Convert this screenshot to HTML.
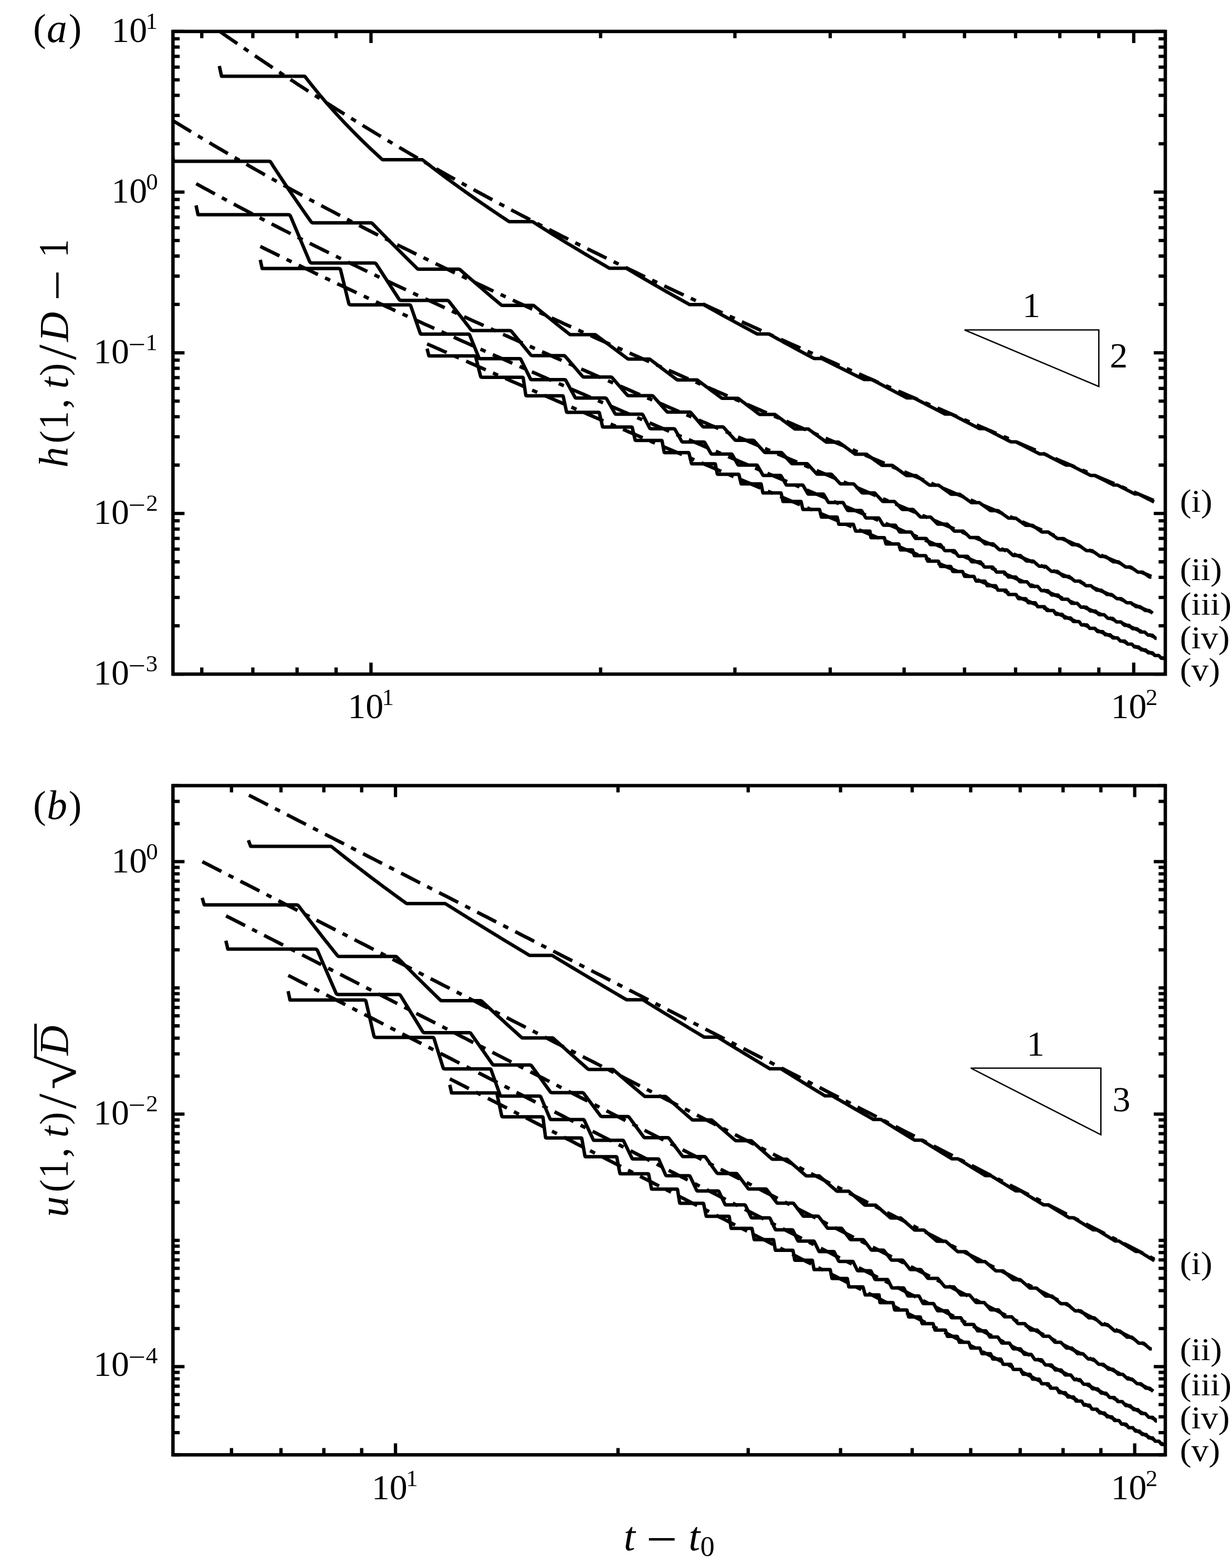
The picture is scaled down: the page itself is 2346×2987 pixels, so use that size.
<!DOCTYPE html>
<html lang="en"><head><meta charset="utf-8"><title>Figure</title>
<style>
html,body{margin:0;padding:0;background:#fff;}
body{width:2346px;height:2987px;overflow:hidden;}
svg{display:block;font-family:'Liberation Serif', 'DejaVu Serif', serif;fill:#000;}
</style></head><body>
<svg width="2346" height="2987" viewBox="0 0 2346 2987">
<defs>
<clipPath id="ca"><rect x="329.35" y="59.90" width="1889.65" height="1224.30"/></clipPath>
<clipPath id="cb"><rect x="329.35" y="1496.60" width="1889.65" height="1274.80"/></clipPath>
</defs>
<rect width="2346" height="2987" fill="#fff"/>
<g clip-path="url(#ca)">
<path d="M418.5 59.9L425.9 65.1L433.3 70.2L440.7 75.4L448.2 80.5L455.6 85.7L463.0 90.8L470.4 95.8L477.8 100.9L485.2 106.0L492.6 111.0L500.0 116.0L507.5 121.0L514.9 126.0L522.3 131.0L529.7 135.9L537.1 140.9L544.5 145.8L551.9 150.7L559.4 155.5L566.8 160.4L574.2 165.2L581.6 170.1L589.0 174.9L596.4 179.7L603.8 184.4L611.2 189.2L618.7 193.9L626.1 198.6L633.5 203.3L640.9 208.0L648.3 212.6L655.7 217.3L663.1 221.9L670.5 226.5L678.0 231.1L685.4 235.7L692.8 240.2L700.2 244.7L707.6 249.2L715.0 253.7L722.4 258.2L729.9 262.7L737.3 267.1L744.7 271.5L752.1 275.9L759.5 280.3L766.9 284.7L774.3 289.0L781.7 293.4L789.2 297.7L796.6 302.0L804.0 306.3L811.4 310.5L818.8 314.8L826.2 319.0L833.6 323.2L841.0 327.4L848.5 331.6L855.9 335.8L863.3 339.9L870.7 344.0L878.1 348.2L885.5 352.3L892.9 356.4L900.4 360.4L907.8 364.5L915.2 368.5L922.6 372.5L930.0 376.5L937.4 380.5L944.8 384.5L952.2 388.5L959.7 392.4L967.1 396.4L974.5 400.3L981.9 404.2L989.3 408.1L996.7 412.0L1004.1 415.8L1011.5 419.7L1019.0 423.5L1026.4 427.4L1033.8 431.2L1041.2 435.0L1048.6 438.8L1056.0 442.5L1063.4 446.3L1070.8 450.1L1078.3 453.8L1085.7 457.5L1093.1 461.3L1100.5 465.0L1107.9 468.7L1115.3 472.3L1122.7 476.0L1130.2 479.7L1137.6 483.3L1145.0 487.0L1152.4 490.6L1159.8 494.2L1167.2 497.9L1174.6 501.5L1182.0 505.1L1189.5 508.6L1196.9 512.2L1204.3 515.8L1211.7 519.3L1219.1 522.9L1226.5 526.4L1233.9 530.0L1241.3 533.5L1248.8 537.0L1256.2 540.5L1263.6 544.0L1271.0 547.5L1278.4 551.0L1285.8 554.5L1293.2 557.9L1300.7 561.4L1308.1 564.9L1315.5 568.3L1322.9 571.8L1330.3 575.2L1337.7 578.6L1345.1 582.0L1352.5 585.5L1360.0 588.9L1367.4 592.3L1374.8 595.7L1382.2 599.1L1389.6 602.5L1397.0 605.8L1404.4 609.2L1411.8 612.6L1419.3 616.0L1426.7 619.3L1434.1 622.7L1441.5 626.0L1448.9 629.4L1456.3 632.7L1463.7 636.0L1471.2 639.4L1478.6 642.7L1486.0 646.0L1493.4 649.3L1500.8 652.7L1508.2 656.0L1515.6 659.3L1523.0 662.6L1530.5 665.9L1537.9 669.2L1545.3 672.5L1552.7 675.7L1560.1 679.0L1567.5 682.3L1574.9 685.6L1582.3 688.8L1589.8 692.1L1597.2 695.4L1604.6 698.6L1612.0 701.9L1619.4 705.2L1626.8 708.4L1634.2 711.7L1641.7 714.9L1649.1 718.2L1656.5 721.4L1663.9 724.6L1671.3 727.9L1678.7 731.1L1686.1 734.4L1693.5 737.6L1701.0 740.8L1708.4 744.0L1715.8 747.3L1723.2 750.5L1730.6 753.7L1738.0 756.9L1745.4 760.1L1752.8 763.3L1760.3 766.6L1767.7 769.8L1775.1 773.0L1782.5 776.2L1789.9 779.4L1797.3 782.6L1804.7 785.8L1812.1 789.0L1819.6 792.2L1827.0 795.4L1834.4 798.6L1841.8 801.7L1849.2 804.9L1856.6 808.1L1864.0 811.3L1871.5 814.5L1878.9 817.7L1886.3 820.9L1893.7 824.0L1901.1 827.2L1908.5 830.4L1915.9 833.6L1923.3 836.8L1930.8 839.9L1938.2 843.1L1945.6 846.3L1953.0 849.5L1960.4 852.6L1967.8 855.8L1975.2 859.0L1982.6 862.1L1990.1 865.3L1997.5 868.5L2004.9 871.6L2012.3 874.8L2019.7 878.0L2027.1 881.1L2034.5 884.3L2042.0 887.4L2049.4 890.6L2056.8 893.8L2064.2 896.9L2071.6 900.1L2079.0 903.2L2086.4 906.4L2093.8 909.5L2101.3 912.7L2108.7 915.8L2116.1 919.0L2123.5 922.1L2130.9 925.3L2138.3 928.4L2145.7 931.6L2153.1 934.7L2160.6 937.9L2168.0 941.0L2175.4 944.2L2182.8 947.3L2190.2 950.5L2197.6 953.6" fill="none" stroke="#000" stroke-width="6.60" stroke-dasharray="40.7 15.1 10.5 15.1" stroke-dashoffset="0.0"/>
<path d="M327.1 228.4L334.8 233.2L342.6 237.9L350.4 242.7L358.1 247.4L365.9 252.2L373.7 256.9L381.5 261.5L389.2 266.2L397.0 270.8L404.8 275.5L412.6 280.1L420.3 284.6L428.1 289.2L435.9 293.7L443.6 298.3L451.4 302.8L459.2 307.3L467.0 311.7L474.7 316.2L482.5 320.6L490.3 325.0L498.1 329.4L505.8 333.8L513.6 338.1L521.4 342.5L529.1 346.8L536.9 351.1L544.7 355.4L552.5 359.7L560.2 363.9L568.0 368.1L575.8 372.4L583.6 376.6L591.3 380.8L599.1 384.9L606.9 389.1L614.6 393.2L622.4 397.3L630.2 401.4L638.0 405.5L645.7 409.6L653.5 413.7L661.3 417.7L669.1 421.8L676.8 425.8L684.6 429.8L692.4 433.8L700.1 437.8L707.9 441.7L715.7 445.7L723.5 449.6L731.2 453.5L739.0 457.4L746.8 461.3L754.6 465.2L762.3 469.1L770.1 473.0L777.9 476.8L785.6 480.7L793.4 484.5L801.2 488.3L809.0 492.1L816.7 495.9L824.5 499.7L832.3 503.5L840.1 507.2L847.8 511.0L855.6 514.7L863.4 518.5L871.2 522.2L878.9 525.9L886.7 529.6L894.5 533.3L902.2 537.0L910.0 540.7L917.8 544.3L925.6 548.0L933.3 551.7L941.1 555.3L948.9 558.9L956.7 562.6L964.4 566.2L972.2 569.8L980.0 573.4L987.7 577.0L995.5 580.6L1003.3 584.2L1011.1 587.8L1018.8 591.3L1026.6 594.9L1034.4 598.5L1042.2 602.0L1049.9 605.6L1057.7 609.1L1065.5 612.6L1073.2 616.2L1081.0 619.7L1088.8 623.2L1096.6 626.7L1104.3 630.2L1112.1 633.7L1119.9 637.2L1127.7 640.7L1135.4 644.2L1143.2 647.7L1151.0 651.2L1158.7 654.6L1166.5 658.1L1174.3 661.6L1182.1 665.0L1189.8 668.5L1197.6 671.9L1205.4 675.4L1213.2 678.8L1220.9 682.3L1228.7 685.7L1236.5 689.1L1244.2 692.6L1252.0 696.0L1259.8 699.4L1267.6 702.8L1275.3 706.2L1283.1 709.6L1290.9 713.0L1298.7 716.5L1306.4 719.9L1314.2 723.3L1322.0 726.6L1329.7 730.0L1337.5 733.4L1345.3 736.8L1353.1 740.2L1360.8 743.6L1368.6 747.0L1376.4 750.3L1384.2 753.7L1391.9 757.1L1399.7 760.5L1407.5 763.8L1415.2 767.2L1423.0 770.6L1430.8 773.9L1438.6 777.3L1446.3 780.6L1454.1 784.0L1461.9 787.3L1469.7 790.7L1477.4 794.0L1485.2 797.4L1493.0 800.7L1500.8 804.1L1508.5 807.4L1516.3 810.8L1524.1 814.1L1531.8 817.5L1539.6 820.8L1547.4 824.1L1555.2 827.5L1562.9 830.8L1570.7 834.1L1578.5 837.5L1586.3 840.8L1594.0 844.1L1601.8 847.4L1609.6 850.8L1617.3 854.1L1625.1 857.4L1632.9 860.7L1640.7 864.1L1648.4 867.4L1656.2 870.7L1664.0 874.0L1671.8 877.3L1679.5 880.6L1687.3 884.0L1695.1 887.3L1702.8 890.6L1710.6 893.9L1718.4 897.2L1726.2 900.5L1733.9 903.8L1741.7 907.1L1749.5 910.4L1757.3 913.7L1765.0 917.1L1772.8 920.4L1780.6 923.7L1788.3 927.0L1796.1 930.3L1803.9 933.6L1811.7 936.9L1819.4 940.2L1827.2 943.5L1835.0 946.8L1842.8 950.1L1850.5 953.4L1858.3 956.7L1866.1 960.0L1873.8 963.3L1881.6 966.6L1889.4 969.9L1897.2 973.2L1904.9 976.5L1912.7 979.8L1920.5 983.0L1928.3 986.3L1936.0 989.6L1943.8 992.9L1951.6 996.2L1959.3 999.5L1967.1 1002.8L1974.9 1006.1L1982.7 1009.4L1990.4 1012.7L1998.2 1016.0L2006.0 1019.3L2013.8 1022.5L2021.5 1025.8L2029.3 1029.1L2037.1 1032.4L2044.8 1035.7L2052.6 1039.0L2060.4 1042.3L2068.2 1045.6L2075.9 1048.9L2083.7 1052.1L2091.5 1055.4L2099.3 1058.7L2107.0 1062.0L2114.8 1065.3L2122.6 1068.6L2130.4 1071.9L2138.1 1075.1L2145.9 1078.4L2153.7 1081.7L2161.4 1085.0L2169.2 1088.3L2177.0 1091.6L2184.8 1094.9L2192.5 1098.1" fill="none" stroke="#000" stroke-width="6.60" stroke-dasharray="40.7 15.1 10.5 15.1" stroke-dashoffset="-2.5"/>
<path d="M373.6 349.9L381.2 354.1L388.8 358.3L396.4 362.4L404.0 366.6L411.6 370.7L419.2 374.8L426.8 378.9L434.3 383.0L441.9 387.0L449.5 391.1L457.1 395.1L464.7 399.1L472.3 403.1L479.9 407.1L487.5 411.1L495.1 415.1L502.6 419.0L510.2 423.0L517.8 426.9L525.4 430.8L533.0 434.7L540.6 438.6L548.2 442.4L555.8 446.3L563.4 450.1L571.0 454.0L578.5 457.8L586.1 461.6L593.7 465.4L601.3 469.2L608.9 472.9L616.5 476.7L624.1 480.4L631.7 484.2L639.3 487.9L646.8 491.6L654.4 495.3L662.0 499.0L669.6 502.7L677.2 506.4L684.8 510.1L692.4 513.7L700.0 517.4L707.6 521.0L715.1 524.6L722.7 528.3L730.3 531.9L737.9 535.5L745.5 539.1L753.1 542.7L760.7 546.2L768.3 549.8L775.9 553.4L783.4 556.9L791.0 560.5L798.6 564.0L806.2 567.5L813.8 571.1L821.4 574.6L829.0 578.1L836.6 581.6L844.2 585.1L851.8 588.6L859.3 592.1L866.9 595.6L874.5 599.0L882.1 602.5L889.7 606.0L897.3 609.4L904.9 612.9L912.5 616.3L920.1 619.8L927.6 623.2L935.2 626.6L942.8 630.0L950.4 633.5L958.0 636.9L965.6 640.3L973.2 643.7L980.8 647.1L988.4 650.5L995.9 653.9L1003.5 657.3L1011.1 660.6L1018.7 664.0L1026.3 667.4L1033.9 670.8L1041.5 674.1L1049.1 677.5L1056.7 680.9L1064.3 684.2L1071.8 687.6L1079.4 690.9L1087.0 694.3L1094.6 697.6L1102.2 700.9L1109.8 704.3L1117.4 707.6L1125.0 710.9L1132.6 714.3L1140.1 717.6L1147.7 720.9L1155.3 724.2L1162.9 727.5L1170.5 730.9L1178.1 734.2L1185.7 737.5L1193.3 740.8L1200.9 744.1L1208.4 747.4L1216.0 750.7L1223.6 754.0L1231.2 757.3L1238.8 760.5L1246.4 763.8L1254.0 767.1L1261.6 770.4L1269.2 773.7L1276.7 777.0L1284.3 780.3L1291.9 783.5L1299.5 786.8L1307.1 790.1L1314.7 793.3L1322.3 796.6L1329.9 799.9L1337.5 803.2L1345.1 806.4L1352.6 809.7L1360.2 812.9L1367.8 816.2L1375.4 819.5L1383.0 822.7L1390.6 826.0L1398.2 829.2L1405.8 832.5L1413.4 835.7L1420.9 839.0L1428.5 842.2L1436.1 845.5L1443.7 848.7L1451.3 852.0L1458.9 855.2L1466.5 858.5L1474.1 861.7L1481.7 865.0L1489.2 868.2L1496.8 871.4L1504.4 874.7L1512.0 877.9L1519.6 881.1L1527.2 884.4L1534.8 887.6L1542.4 890.9L1550.0 894.1L1557.5 897.3L1565.1 900.6L1572.7 903.8L1580.3 907.0L1587.9 910.2L1595.5 913.5L1603.1 916.7L1610.7 919.9L1618.3 923.2L1625.9 926.4L1633.4 929.6L1641.0 932.8L1648.6 936.1L1656.2 939.3L1663.8 942.5L1671.4 945.7L1679.0 948.9L1686.6 952.2L1694.2 955.4L1701.7 958.6L1709.3 961.8L1716.9 965.0L1724.5 968.3L1732.1 971.5L1739.7 974.7L1747.3 977.9L1754.9 981.1L1762.5 984.4L1770.0 987.6L1777.6 990.8L1785.2 994.0L1792.8 997.2L1800.4 1000.4L1808.0 1003.6L1815.6 1006.9L1823.2 1010.1L1830.8 1013.3L1838.3 1016.5L1845.9 1019.7L1853.5 1022.9L1861.1 1026.1L1868.7 1029.3L1876.3 1032.6L1883.9 1035.8L1891.5 1039.0L1899.1 1042.2L1906.7 1045.4L1914.2 1048.6L1921.8 1051.8L1929.4 1055.0L1937.0 1058.2L1944.6 1061.4L1952.2 1064.7L1959.8 1067.9L1967.4 1071.1L1975.0 1074.3L1982.5 1077.5L1990.1 1080.7L1997.7 1083.9L2005.3 1087.1L2012.9 1090.3L2020.5 1093.5L2028.1 1096.7L2035.7 1099.9L2043.3 1103.1L2050.8 1106.3L2058.4 1109.5L2066.0 1112.8L2073.6 1116.0L2081.2 1119.2L2088.8 1122.4L2096.4 1125.6L2104.0 1128.8L2111.6 1132.0L2119.1 1135.2L2126.7 1138.4L2134.3 1141.6L2141.9 1144.8L2149.5 1148.0L2157.1 1151.2L2164.7 1154.4L2172.3 1157.6L2179.9 1160.8L2187.5 1164.0L2195.0 1167.2" fill="none" stroke="#000" stroke-width="6.60" stroke-dasharray="40.7 15.1 10.5 15.1" stroke-dashoffset="0.0"/>
<path d="M495.7 469.4L502.8 473.0L509.9 476.5L517.1 480.0L524.2 483.5L531.3 487.0L538.4 490.5L545.5 494.0L552.6 497.4L559.7 500.9L566.8 504.3L574.0 507.8L581.1 511.2L588.2 514.6L595.3 518.1L602.4 521.5L609.5 524.9L616.6 528.3L623.7 531.6L630.8 535.0L638.0 538.4L645.1 541.8L652.2 545.1L659.3 548.5L666.4 551.8L673.5 555.1L680.6 558.5L687.7 561.8L694.8 565.1L702.0 568.4L709.1 571.7L716.2 575.0L723.3 578.3L730.4 581.6L737.5 584.9L744.6 588.1L751.7 591.4L758.9 594.7L766.0 597.9L773.1 601.2L780.2 604.4L787.3 607.7L794.4 610.9L801.5 614.1L808.6 617.4L815.7 620.6L822.9 623.8L830.0 627.0L837.1 630.2L844.2 633.4L851.3 636.6L858.4 639.8L865.5 643.0L872.6 646.2L879.8 649.4L886.9 652.6L894.0 655.7L901.1 658.9L908.2 662.1L915.3 665.2L922.4 668.4L929.5 671.6L936.6 674.7L943.8 677.9L950.9 681.0L958.0 684.1L965.1 687.3L972.2 690.4L979.3 693.6L986.4 696.7L993.5 699.8L1000.6 702.9L1007.8 706.1L1014.9 709.2L1022.0 712.3L1029.1 715.4L1036.2 718.5L1043.3 721.7L1050.4 724.8L1057.5 727.9L1064.7 731.0L1071.8 734.1L1078.9 737.2L1086.0 740.3L1093.1 743.4L1100.2 746.5L1107.3 749.5L1114.4 752.6L1121.5 755.7L1128.7 758.8L1135.8 761.9L1142.9 765.0L1150.0 768.0L1157.1 771.1L1164.2 774.2L1171.3 777.3L1178.4 780.3L1185.5 783.4L1192.7 786.5L1199.8 789.6L1206.9 792.6L1214.0 795.7L1221.1 798.7L1228.2 801.8L1235.3 804.9L1242.4 807.9L1249.6 811.0L1256.7 814.0L1263.8 817.1L1270.9 820.1L1278.0 823.2L1285.1 826.3L1292.2 829.3L1299.3 832.3L1306.4 835.4L1313.6 838.4L1320.7 841.5L1327.8 844.5L1334.9 847.6L1342.0 850.6L1349.1 853.7L1356.2 856.7L1363.3 859.7L1370.4 862.8L1377.6 865.8L1384.7 868.9L1391.8 871.9L1398.9 874.9L1406.0 878.0L1413.1 881.0L1420.2 884.0L1427.3 887.1L1434.5 890.1L1441.6 893.1L1448.7 896.1L1455.8 899.2L1462.9 902.2L1470.0 905.2L1477.1 908.3L1484.2 911.3L1491.3 914.3L1498.5 917.3L1505.6 920.4L1512.7 923.4L1519.8 926.4L1526.9 929.4L1534.0 932.4L1541.1 935.5L1548.2 938.5L1555.3 941.5L1562.5 944.5L1569.6 947.6L1576.7 950.6L1583.8 953.6L1590.9 956.6L1598.0 959.6L1605.1 962.6L1612.2 965.7L1619.4 968.7L1626.5 971.7L1633.6 974.7L1640.7 977.7L1647.8 980.7L1654.9 983.7L1662.0 986.8L1669.1 989.8L1676.2 992.8L1683.4 995.8L1690.5 998.8L1697.6 1001.8L1704.7 1004.8L1711.8 1007.8L1718.9 1010.9L1726.0 1013.9L1733.1 1016.9L1740.2 1019.9L1747.4 1022.9L1754.5 1025.9L1761.6 1028.9L1768.7 1031.9L1775.8 1034.9L1782.9 1037.9L1790.0 1041.0L1797.1 1044.0L1804.3 1047.0L1811.4 1050.0L1818.5 1053.0L1825.6 1056.0L1832.7 1059.0L1839.8 1062.0L1846.9 1065.0L1854.0 1068.0L1861.1 1071.0L1868.3 1074.0L1875.4 1077.0L1882.5 1080.0L1889.6 1083.0L1896.7 1086.1L1903.8 1089.1L1910.9 1092.1L1918.0 1095.1L1925.1 1098.1L1932.3 1101.1L1939.4 1104.1L1946.5 1107.1L1953.6 1110.1L1960.7 1113.1L1967.8 1116.1L1974.9 1119.1L1982.0 1122.1L1989.2 1125.1L1996.3 1128.1L2003.4 1131.1L2010.5 1134.1L2017.6 1137.1L2024.7 1140.1L2031.8 1143.1L2038.9 1146.1L2046.0 1149.1L2053.2 1152.1L2060.3 1155.1L2067.4 1158.1L2074.5 1161.1L2081.6 1164.1L2088.7 1167.1L2095.8 1170.1L2102.9 1173.1L2110.1 1176.1L2117.2 1179.1L2124.3 1182.1L2131.4 1185.1L2138.5 1188.1L2145.6 1191.1L2152.7 1194.1L2159.8 1197.1L2166.9 1200.1L2174.1 1203.1L2181.2 1206.1L2188.3 1209.1L2195.4 1212.1L2202.5 1215.2" fill="none" stroke="#000" stroke-width="6.60" stroke-dasharray="40.7 15.1 10.5 15.1" stroke-dashoffset="0.0"/>
<path d="M813.3 655.1L819.2 657.7L825.1 660.3L831.0 663.0L836.9 665.6L842.8 668.2L848.7 670.8L854.6 673.5L860.5 676.1L866.4 678.7L872.3 681.3L878.2 683.9L884.1 686.5L890.0 689.1L895.9 691.7L901.8 694.3L907.7 696.9L913.6 699.5L919.5 702.1L925.4 704.7L931.3 707.3L937.2 709.9L943.1 712.5L949.0 715.1L954.9 717.6L960.8 720.2L966.7 722.8L972.6 725.4L978.5 728.0L984.4 730.5L990.3 733.1L996.2 735.7L1002.1 738.2L1008.0 740.8L1013.9 743.4L1019.8 746.0L1025.7 748.5L1031.6 751.1L1037.5 753.6L1043.4 756.2L1049.3 758.8L1055.2 761.3L1061.1 763.9L1067.0 766.4L1072.9 769.0L1078.8 771.5L1084.7 774.1L1090.6 776.6L1096.5 779.2L1102.4 781.7L1108.3 784.3L1114.2 786.8L1120.1 789.4L1126.0 791.9L1131.9 794.5L1137.8 797.0L1143.7 799.6L1149.6 802.1L1155.5 804.6L1161.4 807.2L1167.3 809.7L1173.2 812.2L1179.1 814.8L1185.0 817.3L1190.9 819.8L1196.8 822.4L1202.7 824.9L1208.6 827.4L1214.5 830.0L1220.4 832.5L1226.3 835.0L1232.2 837.6L1238.1 840.1L1244.0 842.6L1249.9 845.1L1255.8 847.7L1261.7 850.2L1267.6 852.7L1273.5 855.2L1279.4 857.8L1285.3 860.3L1291.2 862.8L1297.1 865.3L1303.0 867.8L1308.9 870.4L1314.8 872.9L1320.7 875.4L1326.6 877.9L1332.5 880.4L1338.4 882.9L1344.3 885.5L1350.2 888.0L1356.1 890.5L1362.0 893.0L1367.9 895.5L1373.9 898.0L1379.8 900.5L1385.7 903.1L1391.6 905.6L1397.5 908.1L1403.4 910.6L1409.3 913.1L1415.2 915.6L1421.1 918.1L1427.0 920.6L1432.9 923.1L1438.8 925.7L1444.7 928.2L1450.6 930.7L1456.5 933.2L1462.4 935.7L1468.3 938.2L1474.2 940.7L1480.1 943.2L1486.0 945.7L1491.9 948.2L1497.8 950.7L1503.7 953.2L1509.6 955.7L1515.5 958.2L1521.4 960.7L1527.3 963.2L1533.2 965.7L1539.1 968.2L1545.0 970.7L1550.9 973.2L1556.8 975.8L1562.7 978.3L1568.6 980.8L1574.5 983.3L1580.4 985.8L1586.3 988.3L1592.2 990.8L1598.1 993.3L1604.0 995.8L1609.9 998.3L1615.8 1000.8L1621.7 1003.3L1627.6 1005.8L1633.5 1008.3L1639.4 1010.8L1645.3 1013.2L1651.2 1015.7L1657.1 1018.2L1663.0 1020.7L1668.9 1023.2L1674.8 1025.7L1680.7 1028.2L1686.6 1030.7L1692.5 1033.2L1698.4 1035.7L1704.3 1038.2L1710.2 1040.7L1716.1 1043.2L1722.0 1045.7L1727.9 1048.2L1733.8 1050.7L1739.7 1053.2L1745.6 1055.7L1751.5 1058.2L1757.4 1060.7L1763.3 1063.2L1769.2 1065.7L1775.1 1068.2L1781.0 1070.7L1786.9 1073.2L1792.8 1075.6L1798.7 1078.1L1804.6 1080.6L1810.5 1083.1L1816.4 1085.6L1822.3 1088.1L1828.2 1090.6L1834.1 1093.1L1840.0 1095.6L1845.9 1098.1L1851.8 1100.6L1857.7 1103.1L1863.6 1105.6L1869.5 1108.1L1875.4 1110.6L1881.3 1113.0L1887.2 1115.5L1893.1 1118.0L1899.0 1120.5L1904.9 1123.0L1910.8 1125.5L1916.7 1128.0L1922.6 1130.5L1928.5 1133.0L1934.4 1135.5L1940.3 1138.0L1946.2 1140.5L1952.1 1142.9L1958.0 1145.4L1963.9 1147.9L1969.8 1150.4L1975.8 1152.9L1981.7 1155.4L1987.6 1157.9L1993.5 1160.4L1999.4 1162.9L2005.3 1165.4L2011.2 1167.9L2017.1 1170.3L2023.0 1172.8L2028.9 1175.3L2034.8 1177.8L2040.7 1180.3L2046.6 1182.8L2052.5 1185.3L2058.4 1187.8L2064.3 1190.3L2070.2 1192.8L2076.1 1195.2L2082.0 1197.7L2087.9 1200.2L2093.8 1202.7L2099.7 1205.2L2105.6 1207.7L2111.5 1210.2L2117.4 1212.7L2123.3 1215.2L2129.2 1217.7L2135.1 1220.1L2141.0 1222.6L2146.9 1225.1L2152.8 1227.6L2158.7 1230.1L2164.6 1232.6L2170.5 1235.1L2176.4 1237.6L2182.3 1240.1L2188.2 1242.5L2194.1 1245.0L2200.0 1247.5L2205.9 1250.0L2211.8 1252.5L2217.7 1255.0L2223.6 1257.5L2229.5 1260.0" fill="none" stroke="#000" stroke-width="6.60" stroke-dasharray="40.7 15.1 10.5 15.1" stroke-dashoffset="0.0"/>
<path d="M417.60 125.68L421.90 145.28L579.35 145.28Q580.30 145.28 580.89 146.03L594.06 162.83L607.53 179.29L620.71 194.80L633.62 209.44L646.28 223.32L658.69 236.52L670.85 249.09L682.79 261.09L694.51 272.57L706.01 283.58L717.30 294.15L727.84 303.81Q728.40 304.32 729.15 304.32L803.63 304.32Q804.30 304.32 804.83 304.73L819.87 316.41L835.06 327.97L849.89 339.05L864.38 349.69L878.55 359.92L892.41 369.77L905.96 379.27L919.24 388.44L932.24 397.30L944.97 405.88L957.46 414.19L969.27 421.97Q969.70 422.25 970.21 422.25L1013.72 422.25Q1014.20 422.25 1014.60 422.51L1027.78 430.90L1041.08 439.27L1054.11 447.38L1066.87 455.26L1079.37 462.90L1091.64 470.34L1103.67 477.57L1115.47 484.61L1127.06 491.47L1138.44 498.16L1149.62 504.68L1160.27 510.86Q1160.60 511.05 1160.98 511.05L1192.24 511.05Q1192.60 511.05 1192.91 511.23L1203.58 517.56L1214.37 523.91L1224.98 530.11L1235.41 536.18L1245.68 542.11L1255.78 547.91L1265.72 553.58L1275.51 559.14L1285.14 564.58L1294.63 569.92L1303.99 575.15L1312.94 580.13Q1313.20 580.27 1313.50 580.27L1339.21 580.27Q1339.50 580.27 1339.75 580.41L1348.71 585.42L1357.78 590.47L1366.73 595.42L1375.55 600.28L1384.25 605.06L1392.83 609.75L1401.30 614.36L1409.65 618.89L1417.89 623.34L1426.03 627.72L1434.07 632.04L1441.79 636.16Q1442.00 636.28 1442.24 636.28L1463.77 636.28Q1464.00 636.28 1464.21 636.39L1471.66 640.50L1479.23 644.66L1486.71 648.76L1494.10 652.79L1501.40 656.76L1508.62 660.68L1515.76 664.53L1522.82 668.33L1529.81 672.08L1536.71 675.78L1543.54 679.43L1550.12 682.93Q1550.30 683.02 1550.50 683.02L1564.50 683.02Q1564.70 683.02 1564.88 683.11L1571.83 686.59L1578.89 690.12L1585.86 693.60L1592.76 697.03L1599.59 700.43L1606.34 703.77L1613.02 707.08L1619.63 710.35L1626.17 713.57L1632.65 716.76L1639.06 719.91L1645.24 722.94Q1645.40 723.02 1645.58 723.02L1659.93 723.02Q1660.10 723.02 1660.25 723.10L1665.93 726.11L1671.70 729.17L1677.42 732.19L1683.09 735.17L1688.71 738.13L1694.28 741.05L1699.80 743.93L1705.27 746.79L1710.70 749.62L1716.08 752.42L1721.41 755.18L1726.57 757.85Q1726.70 757.92 1726.86 757.92L1739.80 757.92Q1739.95 757.92 1740.09 757.99L1745.16 760.64L1750.32 763.34L1755.43 766.00L1760.51 768.64L1765.54 771.25L1770.54 773.84L1775.50 776.40L1780.41 778.94L1785.29 781.45L1790.14 783.95L1794.94 786.41L1799.59 788.79Q1799.71 788.86 1799.85 788.86L1811.39 788.86Q1811.53 788.86 1811.65 788.92L1816.20 791.28L1820.83 793.69L1825.44 796.07L1830.00 798.44L1834.54 800.78L1839.04 803.10L1843.51 805.40L1847.95 807.68L1852.36 809.94L1856.74 812.19L1861.09 814.41L1865.30 816.56Q1865.41 816.62 1865.53 816.62L1875.94 816.62Q1876.07 816.62 1876.17 816.67L1880.30 818.81L1884.50 820.98L1888.68 823.13L1892.83 825.27L1896.95 827.39L1901.05 829.50L1905.12 831.58L1909.16 833.66L1913.18 835.71L1917.17 837.75L1921.14 839.77L1924.98 841.73Q1925.08 841.78 1925.20 841.78L1934.67 841.78Q1934.79 841.78 1934.89 841.83L1938.66 843.78L1942.50 845.76L1946.32 847.73L1950.12 849.68L1953.90 851.62L1957.66 853.54L1961.39 855.45L1965.10 857.34L1968.79 859.23L1972.45 861.10L1976.10 862.95L1979.63 864.75Q1979.72 864.80 1979.83 864.80L1988.53 864.80Q1988.63 864.80 1988.72 864.84L1992.19 866.63L1995.73 868.45L1999.25 870.26L2002.76 872.05L2006.24 873.83L2009.70 875.61L2013.15 877.37L2016.58 879.11L2019.98 880.85L2023.37 882.58L2026.74 884.29L2030.01 885.95Q2030.10 885.99 2030.19 885.99L2038.23 885.99Q2038.32 885.99 2038.41 886.04L2041.62 887.69L2044.90 889.37L2048.17 891.04L2051.42 892.70L2054.65 894.35L2057.86 896.00L2061.06 897.63L2064.24 899.25L2067.41 900.86L2070.56 902.46L2073.69 904.05L2076.73 905.59Q2076.81 905.63 2076.90 905.63L2084.36 905.63Q2084.45 905.63 2084.53 905.67L2087.52 907.21L2090.58 908.77L2093.62 910.33L2096.65 911.88L2099.66 913.41L2102.66 914.94L2105.64 916.46L2108.61 917.97L2111.57 919.48L2114.51 920.97L2117.44 922.46L2120.28 923.90Q2120.35 923.93 2120.44 923.93L2127.41 923.93Q2127.49 923.93 2127.56 923.97L2130.36 925.40L2133.22 926.87L2136.07 928.32L2138.90 929.77L2141.72 931.21L2144.53 932.64L2147.32 934.06L2150.11 935.47L2152.88 936.88L2155.64 938.28L2158.39 939.68L2161.05 941.03Q2161.12 941.06 2161.20 941.06L2167.73 941.06Q2167.81 941.06 2167.88 941.10L2170.51 942.44L2173.19 943.81L2175.87 945.18L2178.53 946.54L2181.18 947.89L2183.83 949.23L2186.46 950.57L2189.07 951.90L2191.68 953.22L2194.28 954.54L2196.87 955.85L2197.63 956.24" fill="none" stroke="#000" stroke-width="6.50" stroke-linejoin="round"/>
<path d="M326.80 288.83L330.60 307.33L512.28 307.33Q514.40 307.33 515.55 309.11L521.40 318.17L528.33 328.78L535.18 339.16L541.96 349.34L548.66 359.33L555.30 369.12L561.86 378.74L568.36 388.20L574.79 397.50L581.16 406.64L587.46 415.64L592.63 422.97Q593.70 424.50 595.57 424.50L706.34 424.50Q707.90 424.50 708.98 425.61L715.71 432.56L723.43 440.48L731.05 448.26L738.58 455.90L746.02 463.41L753.38 470.80L760.65 478.07L767.84 485.22L774.95 492.26L781.97 499.20L788.93 506.03L794.83 511.82Q795.80 512.76 797.15 512.76L873.71 512.76Q874.90 512.76 875.80 513.55L882.00 518.97L889.01 525.08L895.95 531.09L902.82 537.03L909.61 542.87L916.33 548.64L922.97 554.32L929.55 559.93L936.06 565.47L942.51 570.93L948.89 576.32L954.40 580.96Q955.20 581.64 956.25 581.64L1014.84 581.64Q1015.80 581.64 1016.54 582.24L1021.90 586.60L1027.95 591.50L1033.93 596.33L1039.86 601.11L1045.74 605.83L1051.56 610.50L1057.33 615.11L1063.04 619.67L1068.71 624.18L1074.32 628.63L1079.88 633.04L1084.73 636.87Q1085.40 637.40 1086.26 637.40L1132.91 637.40Q1133.70 637.40 1134.33 637.88L1139.14 641.51L1144.54 645.57L1149.89 649.59L1155.19 653.57L1160.45 657.50L1165.67 661.40L1170.85 665.25L1175.98 669.07L1181.07 672.85L1186.12 676.60L1191.13 680.30L1195.52 683.55Q1196.10 683.97 1196.82 683.97L1236.43 683.97Q1237.10 683.97 1237.63 684.38L1241.66 687.46L1246.19 690.91L1250.69 694.34L1255.16 697.73L1259.60 701.09L1264.00 704.43L1268.37 707.73L1272.72 711.01L1277.03 714.26L1281.32 717.48L1285.57 720.68L1289.30 723.47Q1289.80 723.85 1290.42 723.85L1327.22 723.85Q1327.80 723.85 1328.27 724.19L1331.84 726.87L1335.86 729.87L1339.86 732.85L1343.82 735.80L1347.77 738.74L1351.69 741.65L1355.58 744.53L1359.45 747.40L1363.30 750.24L1367.12 753.07L1370.92 755.87L1374.26 758.33Q1374.70 758.65 1375.24 758.65L1404.88 758.65Q1405.40 758.65 1405.81 758.96L1408.92 761.32L1412.42 763.97L1415.90 766.60L1419.36 769.21L1422.81 771.81L1426.23 774.39L1429.64 776.95L1433.03 779.49L1436.40 782.02L1439.75 784.53L1443.08 787.03L1446.01 789.22Q1446.40 789.50 1446.88 789.50L1475.24 789.50Q1475.70 789.50 1476.07 789.78L1478.93 791.89L1482.15 794.26L1485.35 796.62L1488.54 798.96L1491.71 801.29L1494.86 803.61L1498.00 805.91L1501.12 808.19L1504.23 810.46L1507.32 812.72L1510.40 814.97L1513.11 816.94Q1513.46 817.20 1513.90 817.20L1538.67 817.20Q1539.08 817.20 1539.42 817.45L1542.04 819.36L1544.97 821.50L1547.90 823.64L1550.81 825.76L1553.71 827.87L1556.60 829.97L1559.47 832.05L1562.33 834.13L1565.17 836.19L1568.01 838.24L1570.83 840.29L1573.32 842.08Q1573.64 842.32 1574.03 842.32L1596.59 842.32Q1596.97 842.32 1597.28 842.54L1599.67 844.28L1602.37 846.24L1605.05 848.19L1607.72 850.13L1610.38 852.06L1613.03 853.98L1615.67 855.88L1618.29 857.78L1620.91 859.67L1623.51 861.55L1626.11 863.42L1628.40 865.07Q1628.69 865.29 1629.05 865.29L1649.76 865.29Q1650.11 865.29 1650.39 865.49L1652.60 867.09L1655.09 868.90L1657.56 870.69L1660.03 872.47L1662.49 874.25L1664.93 876.01L1667.37 877.77L1669.80 879.52L1672.22 881.27L1674.63 883.00L1677.03 884.73L1679.15 886.25Q1679.42 886.44 1679.75 886.44L1698.88 886.44Q1699.20 886.44 1699.46 886.63L1701.52 888.12L1703.82 889.78L1706.12 891.44L1708.41 893.10L1710.69 894.74L1712.96 896.38L1715.23 898.01L1717.49 899.63L1719.73 901.25L1721.97 902.86L1724.21 904.46L1726.18 905.87Q1726.43 906.05 1726.74 906.05L1744.52 906.05Q1744.82 906.05 1745.06 906.23L1746.97 907.61L1749.13 909.16L1751.27 910.71L1753.40 912.24L1755.53 913.78L1757.65 915.30L1759.77 916.82L1761.88 918.33L1763.98 919.84L1766.07 921.34L1768.16 922.84L1770.00 924.16Q1770.23 924.33 1770.52 924.33L1787.12 924.33Q1787.40 924.33 1787.63 924.49L1789.42 925.78L1791.44 927.23L1793.44 928.68L1795.45 930.12L1797.44 931.55L1799.43 932.98L1801.41 934.40L1803.39 935.82L1805.36 937.23L1807.32 938.63L1809.28 940.03L1811.01 941.27Q1811.23 941.43 1811.50 941.43L1827.07 941.43Q1827.33 941.43 1827.55 941.58L1829.23 942.80L1831.13 944.16L1833.01 945.51L1834.90 946.87L1836.77 948.21L1838.64 949.55L1840.51 950.89L1842.37 952.22L1844.22 953.55L1846.07 954.87L1847.92 956.19L1849.55 957.36Q1849.75 957.50 1850.01 957.50L1864.66 957.50Q1864.91 957.50 1865.11 957.65L1866.70 958.79L1868.49 960.07L1870.27 961.35L1872.05 962.63L1873.82 963.90L1875.59 965.16L1877.35 966.42L1879.11 967.68L1880.86 968.93L1882.60 970.18L1884.35 971.43L1885.89 972.53Q1886.08 972.67 1886.32 972.67L1900.17 972.67Q1900.40 972.67 1900.59 972.80L1902.10 973.88L1903.79 975.10L1905.48 976.31L1907.16 977.51L1908.83 978.71L1910.51 979.91L1912.18 981.10L1913.84 982.29L1915.50 983.48L1917.15 984.66L1918.81 985.84L1920.27 986.88Q1920.45 987.01 1920.68 987.01L1933.80 987.01Q1934.02 987.01 1934.20 987.14L1935.63 988.17L1937.23 989.32L1938.84 990.46L1940.43 991.61L1942.02 992.75L1943.61 993.88L1945.20 995.02L1946.78 996.15L1948.35 997.27L1949.93 998.39L1951.50 999.51L1952.88 1000.50Q1953.06 1000.63 1953.28 1000.63L1965.74 1000.63Q1965.95 1000.63 1966.13 1000.75L1967.48 1001.73L1969.01 1002.82L1970.53 1003.91L1972.05 1005.00L1973.57 1006.08L1975.08 1007.16L1976.59 1008.24L1978.09 1009.32L1979.60 1010.39L1981.09 1011.46L1982.59 1012.52L1983.91 1013.46Q1984.08 1013.58 1984.28 1013.58L1996.16 1013.58Q1996.36 1013.58 1996.52 1013.70L1997.82 1014.63L1999.27 1015.67L2000.73 1016.71L2002.18 1017.75L2003.62 1018.78L2005.06 1019.81L2006.50 1020.84L2007.94 1021.86L2009.37 1022.89L2010.80 1023.91L2012.23 1024.92L2013.49 1025.82Q2013.65 1025.94 2013.85 1025.94L2025.18 1025.94Q2025.37 1025.94 2025.53 1026.05L2026.77 1026.94L2028.16 1027.93L2029.55 1028.92L2030.93 1029.91L2032.32 1030.90L2033.70 1031.89L2035.07 1032.87L2036.45 1033.85L2037.82 1034.83L2039.18 1035.80L2040.55 1036.77L2041.76 1037.63Q2041.91 1037.74 2042.10 1037.74L2052.94 1037.74Q2053.12 1037.74 2053.27 1037.85L2054.46 1038.70L2055.79 1039.65L2057.12 1040.60L2058.45 1041.55L2059.77 1042.50L2061.09 1043.44L2062.41 1044.38L2063.73 1045.32L2065.04 1046.25L2066.35 1047.19L2067.66 1048.12L2068.82 1048.95Q2068.96 1049.05 2069.14 1049.05L2079.53 1049.05Q2079.71 1049.05 2079.85 1049.15L2080.99 1049.97L2082.27 1050.88L2083.54 1051.79L2084.82 1052.70L2086.09 1053.61L2087.36 1054.51L2088.62 1055.41L2089.88 1056.31L2091.14 1057.21L2092.40 1058.11L2093.66 1059.00L2094.77 1059.79Q2094.91 1059.90 2095.08 1059.90L2105.06 1059.90Q2105.23 1059.90 2105.37 1059.99L2106.46 1060.77L2107.69 1061.65L2108.91 1062.53L2110.13 1063.40L2111.36 1064.27L2112.57 1065.14L2113.79 1066.01L2115.00 1066.87L2116.22 1067.74L2117.43 1068.60L2118.63 1069.46L2119.70 1070.22Q2119.84 1070.32 2120.00 1070.32L2129.59 1070.32Q2129.76 1070.32 2129.89 1070.41L2130.94 1071.16L2132.12 1072.01L2133.30 1072.85L2134.48 1073.69L2135.66 1074.53L2136.83 1075.36L2138.00 1076.20L2139.17 1077.03L2140.33 1077.86L2141.50 1078.69L2142.66 1079.52L2143.69 1080.25Q2143.82 1080.35 2143.98 1080.35L2153.22 1080.35Q2153.37 1080.35 2153.50 1080.44L2154.51 1081.16L2155.65 1081.97L2156.79 1082.79L2157.92 1083.60L2159.06 1084.40L2160.19 1085.21L2161.32 1086.01L2162.44 1086.82L2163.57 1087.62L2164.69 1088.42L2165.81 1089.21L2166.80 1089.92Q2166.93 1090.01 2167.08 1090.01L2175.99 1090.01Q2176.14 1090.01 2176.26 1090.10L2177.24 1090.80L2178.34 1091.58L2179.44 1092.36L2180.53 1093.15L2181.63 1093.92L2182.72 1094.70L2183.81 1095.48L2184.89 1096.25L2185.98 1097.03L2187.06 1097.80L2188.14 1098.57L2189.10 1099.25Q2189.22 1099.34 2189.37 1099.34L2192.53 1099.34" fill="none" stroke="#000" stroke-width="6.50" stroke-linejoin="round"/>
<path d="M373.30 391.28L377.10 408.98L548.51 408.98Q552.00 408.98 553.36 412.20L589.52 497.89Q590.80 500.91 594.08 500.91L712.51 500.91Q715.20 500.91 716.66 503.17L759.94 570.13Q761.30 572.23 763.80 572.23L851.44 572.23Q853.60 572.23 854.92 573.94L896.87 628.08Q898.10 629.67 900.11 629.67L970.91 629.67Q972.70 629.67 973.83 631.06L1010.64 676.14Q1011.70 677.44 1013.38 677.44L1073.68 677.44Q1075.20 677.44 1076.19 678.59L1109.36 717.11Q1110.30 718.20 1111.74 718.20L1163.18 718.20Q1164.50 718.20 1165.36 719.20L1194.38 752.73Q1195.20 753.69 1196.46 753.69L1241.73 753.69Q1242.90 753.69 1243.67 754.56L1269.96 784.24Q1270.70 785.08 1271.82 785.08L1313.66 785.08Q1314.70 785.08 1315.38 785.87L1338.03 812.45Q1338.68 813.21 1339.68 813.21L1376.13 813.21Q1377.07 813.21 1377.71 813.91L1399.47 838.01Q1400.08 838.68 1400.99 838.68L1434.15 838.68Q1435.01 838.68 1435.59 839.32L1455.61 861.33Q1456.17 861.95 1457.00 861.95L1487.41 861.95Q1488.20 861.95 1488.74 862.53L1507.25 882.80Q1507.77 883.36 1508.54 883.36L1536.62 883.36Q1537.35 883.36 1537.84 883.90L1555.06 902.67Q1555.54 903.19 1556.25 903.19L1582.33 903.19Q1583.01 903.19 1583.47 903.69L1599.55 921.17Q1600.00 921.65 1600.66 921.65L1624.99 921.65Q1625.63 921.65 1626.06 922.12L1641.15 938.47Q1641.57 938.92 1642.19 938.92L1665.00 938.92Q1665.59 938.92 1666.00 939.36L1680.39 954.72Q1680.78 955.15 1681.37 955.15L1702.51 955.15Q1703.07 955.15 1703.46 955.55L1717.35 970.04Q1717.73 970.44 1718.28 970.44L1737.94 970.44Q1738.47 970.44 1738.84 970.82L1752.29 984.53Q1752.65 984.90 1753.17 984.90L1771.50 984.90Q1772.00 984.90 1772.36 985.26L1785.40 998.28Q1785.75 998.62 1786.25 998.62L1803.38 998.62Q1803.86 998.62 1804.20 998.96L1816.88 1011.34Q1817.22 1011.67 1817.69 1011.67L1833.74 1011.67Q1834.20 1011.67 1834.53 1011.99L1846.88 1023.80Q1847.20 1024.11 1847.65 1024.11L1862.72 1024.11Q1863.16 1024.11 1863.47 1024.41L1875.52 1035.71Q1875.83 1036.00 1876.26 1036.00L1890.43 1036.00Q1890.85 1036.00 1891.16 1036.28L1902.92 1047.10Q1903.23 1047.38 1903.63 1047.38L1916.99 1047.38Q1917.39 1047.38 1917.68 1047.65L1929.19 1058.03Q1929.49 1058.29 1929.88 1058.29L1942.47 1058.29Q1942.86 1058.29 1943.14 1058.55L1954.42 1068.52Q1954.70 1068.77 1955.08 1068.77L1966.97 1068.77Q1967.34 1068.77 1967.62 1069.02L1978.68 1078.62Q1978.95 1078.86 1979.32 1078.86L1990.56 1078.86Q1990.92 1078.86 1991.19 1079.09L2002.04 1088.35Q2002.31 1088.58 2002.66 1088.58L2013.31 1088.58Q2013.65 1088.58 2013.91 1088.80L2024.58 1097.74Q2024.84 1097.95 2025.17 1097.95L2035.26 1097.95Q2035.59 1097.95 2035.85 1098.16L2046.34 1106.80Q2046.59 1107.01 2046.91 1107.01L2056.48 1107.01Q2056.80 1107.01 2057.05 1107.21L2067.37 1115.57Q2067.62 1115.77 2067.93 1115.77L2077.01 1115.77Q2077.32 1115.77 2077.57 1115.96L2087.73 1124.06Q2087.97 1124.25 2088.28 1124.25L2096.90 1124.25Q2097.20 1124.25 2097.44 1124.44L2107.46 1132.29Q2107.69 1132.47 2107.99 1132.47L2116.18 1132.47Q2116.47 1132.47 2116.70 1132.65L2126.59 1140.26Q2126.81 1140.44 2127.10 1140.44L2134.89 1140.44Q2135.17 1140.44 2135.40 1140.61L2145.15 1148.01Q2145.38 1148.18 2145.66 1148.18L2153.06 1148.18Q2153.34 1148.18 2153.56 1148.35L2163.15 1155.54Q2163.37 1155.70 2163.64 1155.70L2170.76 1155.70Q2171.03 1155.70 2171.24 1155.86L2180.60 1162.86Q2180.81 1163.02 2181.08 1163.02L2188.01 1163.02Q2188.27 1163.02 2188.48 1163.17L2195.04 1168.08" fill="none" stroke="#000" stroke-width="6.50" stroke-linejoin="round"/>
<path d="M495.60 494.95L499.20 511.55L644.90 511.55Q647.90 511.55 648.61 514.46L664.11 577.84Q664.80 580.67 667.72 580.67L779.08 580.67Q781.50 580.67 782.29 582.96L800.03 634.38Q800.80 636.60 803.15 636.60L891.67 636.60Q893.70 636.60 894.46 638.48L911.96 681.48Q912.70 683.30 914.67 683.30L989.46 683.30Q991.20 683.30 991.97 684.86L1010.06 721.75Q1010.80 723.26 1012.49 723.26L1075.18 723.26Q1076.70 723.26 1077.43 724.59L1095.00 756.84Q1095.70 758.14 1097.17 758.14L1152.86 758.14Q1154.20 758.14 1154.86 759.30L1171.15 787.91Q1171.80 789.05 1173.11 789.05L1222.20 789.05Q1223.40 789.05 1223.95 790.11L1237.25 815.74Q1237.80 816.79 1238.97 816.79L1283.55 816.79Q1284.64 816.79 1285.18 817.74L1298.22 841.01Q1298.74 841.94 1299.81 841.94L1340.42 841.94Q1341.41 841.94 1341.90 842.81L1353.96 864.09Q1354.44 864.94 1355.41 864.94L1392.70 864.94Q1393.61 864.94 1394.07 865.74L1405.26 885.34Q1405.71 886.12 1406.61 886.12L1441.06 886.12Q1441.91 886.12 1442.34 886.86L1452.77 905.03Q1453.19 905.76 1454.02 905.76L1486.04 905.76Q1486.84 905.76 1487.23 906.44L1497.01 923.37Q1497.40 924.05 1498.17 924.05L1528.08 924.05Q1528.82 924.05 1529.19 924.69L1538.38 940.54Q1538.75 941.17 1539.48 941.17L1567.53 941.17Q1568.22 941.17 1568.57 941.77L1577.24 956.67Q1577.58 957.26 1578.27 957.26L1604.68 957.26Q1605.34 957.26 1605.67 957.83L1613.86 971.88Q1614.19 972.43 1614.84 972.43L1639.79 972.43Q1640.41 972.43 1640.73 972.97L1648.53 986.27Q1648.84 986.79 1649.45 986.79L1673.04 986.79Q1673.63 986.79 1673.93 987.30L1681.52 999.92Q1681.82 1000.42 1682.40 1000.42L1704.53 1000.42Q1705.09 1000.42 1705.39 1000.90L1712.89 1012.91Q1713.18 1013.38 1713.73 1013.38L1734.54 1013.38Q1735.07 1013.38 1735.36 1013.83L1742.78 1025.30Q1743.06 1025.75 1743.59 1025.75L1763.19 1025.75Q1763.70 1025.75 1763.99 1026.17L1771.32 1037.14Q1771.60 1037.56 1772.11 1037.56L1790.61 1037.56Q1791.10 1037.56 1791.37 1037.96L1798.64 1048.48Q1798.91 1048.88 1799.40 1048.88L1816.89 1048.88Q1817.36 1048.88 1817.63 1049.26L1824.83 1059.35Q1825.10 1059.73 1825.56 1059.73L1842.13 1059.73Q1842.58 1059.73 1842.84 1060.09L1849.98 1069.80Q1850.24 1070.16 1850.69 1070.16L1866.40 1070.16Q1866.83 1070.16 1867.09 1070.50L1874.17 1079.85Q1874.43 1080.19 1874.86 1080.19L1889.77 1080.19Q1890.19 1080.19 1890.45 1080.52L1897.47 1089.54Q1897.73 1089.86 1898.14 1089.86L1912.32 1089.86Q1912.72 1089.86 1912.97 1090.18L1919.95 1098.88Q1920.20 1099.19 1920.59 1099.19L1934.09 1099.19Q1934.47 1099.19 1934.72 1099.49L1941.65 1107.91Q1941.90 1108.21 1942.28 1108.21L1955.13 1108.21Q1955.51 1108.21 1955.75 1108.50L1962.64 1116.64Q1962.88 1116.93 1963.25 1116.93L1975.50 1116.93Q1975.86 1116.93 1976.10 1117.20L1982.95 1125.10Q1983.18 1125.37 1983.54 1125.37L1995.23 1125.37Q1995.59 1125.37 1995.82 1125.64L2002.63 1133.30Q2002.86 1133.56 2003.21 1133.56L2014.37 1133.56Q2014.71 1133.56 2014.94 1133.81L2021.71 1141.25Q2021.94 1141.50 2022.28 1141.50L2032.95 1141.50Q2033.28 1141.50 2033.51 1141.74L2040.24 1148.97Q2040.47 1149.21 2040.80 1149.21L2050.99 1149.21Q2051.31 1149.21 2051.54 1149.44L2058.24 1156.47Q2058.46 1156.70 2058.78 1156.70L2068.54 1156.70Q2068.85 1156.70 2069.07 1156.93L2075.74 1163.77Q2075.96 1163.99 2076.27 1163.99L2085.61 1163.99Q2085.91 1163.99 2086.13 1164.20L2092.77 1170.87Q2092.99 1171.08 2093.29 1171.08L2102.23 1171.08Q2102.53 1171.08 2102.74 1171.29L2109.36 1177.78Q2109.57 1177.99 2109.86 1177.99L2118.43 1177.99Q2118.72 1177.99 2118.93 1178.19L2125.52 1184.53Q2125.73 1184.73 2126.01 1184.73L2134.22 1184.73Q2134.50 1184.73 2134.71 1184.92L2141.28 1191.10Q2141.48 1191.29 2141.76 1191.29L2149.62 1191.29Q2149.90 1191.29 2150.10 1191.48L2156.64 1197.52Q2156.84 1197.70 2157.11 1197.70L2164.67 1197.70Q2164.94 1197.70 2165.14 1197.89L2171.58 1203.78Q2171.78 1203.96 2172.04 1203.96L2179.43 1203.96Q2179.69 1203.96 2179.89 1204.14L2186.17 1209.90Q2186.37 1210.08 2186.63 1210.08L2193.84 1210.08Q2194.10 1210.08 2194.29 1210.25L2200.44 1215.88Q2200.63 1216.06 2200.88 1216.06L2202.50 1216.06" fill="none" stroke="#000" stroke-width="6.50" stroke-linejoin="round"/>
<path d="M813.20 664.16L816.70 677.96L903.41 677.96Q905.40 677.96 905.88 679.90L915.12 716.75Q915.60 718.65 917.56 718.65L994.38 718.65Q996.10 718.65 996.36 720.36L1001.15 752.39Q1001.40 754.08 1003.11 754.08L1070.77 754.08Q1072.30 754.08 1072.62 755.58L1078.68 783.95Q1079.00 785.43 1080.51 785.43L1139.73 785.43Q1141.10 785.43 1141.40 786.77L1147.20 812.20Q1147.50 813.53 1148.86 813.53L1202.46 813.53Q1203.70 813.53 1203.98 814.74L1209.32 837.77Q1209.60 838.97 1210.83 838.97L1259.37 838.97Q1260.50 838.97 1260.71 840.09L1264.69 861.11Q1264.90 862.22 1266.03 862.22L1310.65 862.22Q1311.70 862.22 1311.95 863.23L1316.75 882.60Q1317.00 883.61 1318.04 883.61L1361.13 883.61Q1362.10 883.61 1362.28 884.56L1365.72 902.48Q1365.90 903.42 1366.86 903.42L1406.00 903.42Q1406.90 903.42 1407.11 904.30L1411.09 921.00Q1411.30 921.87 1412.19 921.87L1448.46 921.87Q1449.30 921.87 1449.47 922.69L1452.63 938.30Q1452.80 939.12 1453.64 939.12L1486.61 939.12Q1487.40 939.12 1487.57 939.90L1490.73 954.56Q1490.90 955.33 1491.69 955.33L1524.65 955.33Q1525.40 955.33 1525.57 956.06L1528.73 969.89Q1528.90 970.62 1529.64 970.62L1559.90 970.62Q1560.60 970.62 1560.77 971.30L1563.94 984.39Q1564.10 985.07 1564.80 985.07L1593.53 985.07Q1594.20 985.07 1594.34 985.72L1597.06 998.13Q1597.20 998.78 1597.87 998.78L1624.36 998.78Q1625.00 998.78 1625.20 999.39L1629.20 1011.23Q1629.40 1011.82 1630.03 1011.82L1655.99 1011.82Q1656.60 1011.82 1656.68 1012.42L1658.26 1023.66Q1658.35 1024.26 1658.95 1024.26L1683.42 1024.26Q1684.00 1024.26 1684.15 1024.82L1687.00 1035.58Q1687.15 1036.14 1687.72 1036.14L1710.83 1036.14Q1711.38 1036.14 1711.54 1036.67L1714.54 1046.98Q1714.70 1047.51 1715.25 1047.51L1737.10 1047.51Q1737.63 1047.51 1737.79 1048.02L1740.94 1057.91Q1741.10 1058.42 1741.63 1058.42L1762.32 1058.42Q1762.84 1058.42 1763.00 1058.90L1766.28 1068.42Q1766.45 1068.90 1766.96 1068.90L1786.59 1068.90Q1787.08 1068.90 1787.25 1069.36L1790.65 1078.52Q1790.82 1078.98 1791.31 1078.98L1809.95 1078.98Q1810.43 1078.98 1810.60 1079.42L1814.11 1088.25Q1814.29 1088.69 1814.76 1088.69L1832.49 1088.69Q1832.95 1088.69 1833.13 1089.11L1836.74 1097.64Q1836.92 1098.06 1837.37 1098.06L1854.25 1098.06Q1854.69 1098.06 1854.87 1098.47L1858.59 1106.72Q1858.77 1107.12 1859.21 1107.12L1875.29 1107.12Q1875.72 1107.12 1875.90 1107.50L1879.71 1115.49Q1879.89 1115.87 1880.32 1115.87L1895.65 1115.87Q1896.07 1115.87 1896.25 1116.24L1900.14 1123.98Q1900.33 1124.35 1900.74 1124.35L1915.38 1124.35Q1915.78 1124.35 1915.97 1124.70L1919.94 1132.21Q1920.13 1132.56 1920.53 1132.56L1934.51 1132.56Q1934.90 1132.56 1935.09 1132.91L1939.14 1140.20Q1939.33 1140.53 1939.71 1140.53L1953.08 1140.53Q1953.46 1140.53 1953.65 1140.86L1957.77 1147.95Q1957.96 1148.27 1958.34 1148.27L1971.12 1148.27Q1971.49 1148.27 1971.68 1148.59L1975.87 1155.48Q1976.06 1155.79 1976.43 1155.79L1988.66 1155.79Q1989.02 1155.79 1989.21 1156.09L1993.47 1162.80Q1993.66 1163.10 1994.01 1163.10L2005.73 1163.10Q2006.08 1163.10 2006.27 1163.39L2010.59 1169.93Q2010.78 1170.22 2011.12 1170.22L2022.35 1170.22Q2022.69 1170.22 2022.88 1170.50L2027.25 1176.87Q2027.44 1177.15 2027.78 1177.15L2038.54 1177.15Q2038.87 1177.15 2039.06 1177.42L2043.49 1183.64Q2043.68 1183.91 2044.01 1183.91L2054.33 1183.91Q2054.65 1183.91 2054.84 1184.17L2059.33 1190.24Q2059.52 1190.50 2059.84 1190.50L2069.73 1190.50Q2070.04 1190.50 2070.24 1190.74L2074.77 1196.68Q2074.96 1196.92 2075.28 1196.92L2084.77 1196.92Q2085.07 1196.92 2085.26 1197.16L2089.85 1202.96Q2090.04 1203.20 2090.35 1203.20L2099.45 1203.20Q2099.75 1203.20 2099.94 1203.43L2104.58 1209.10Q2104.77 1209.33 2105.07 1209.33L2113.81 1209.33Q2114.10 1209.33 2114.29 1209.56L2118.97 1215.11Q2119.16 1215.33 2119.45 1215.33L2127.84 1215.33Q2128.13 1215.33 2128.32 1215.54L2133.04 1220.98Q2133.23 1221.19 2133.51 1221.19L2141.57 1221.19Q2141.85 1221.19 2142.04 1221.40L2146.81 1226.72Q2146.99 1226.93 2147.27 1226.93L2155.01 1226.93Q2155.29 1226.93 2155.47 1227.13L2160.25 1232.34Q2160.43 1232.54 2160.71 1232.54L2168.20 1232.54Q2168.47 1232.54 2168.65 1232.74L2173.37 1237.84Q2173.55 1238.04 2173.82 1238.04L2181.16 1238.04Q2181.42 1238.04 2181.60 1238.23L2186.23 1243.24Q2186.40 1243.43 2186.67 1243.43L2193.86 1243.43Q2194.12 1243.43 2194.29 1243.62L2198.83 1248.52Q2199.00 1248.71 2199.26 1248.71L2206.31 1248.71Q2206.56 1248.71 2206.73 1248.89L2211.18 1253.70Q2211.35 1253.89 2211.60 1253.89L2218.52 1253.89Q2218.76 1253.89 2218.93 1254.07L2223.29 1258.78Q2223.46 1258.96 2223.71 1258.96L2229.49 1258.96" fill="none" stroke="#000" stroke-width="6.50" stroke-linejoin="round"/>
</g>
<g clip-path="url(#cb)">
<path d="M474.0 1514.9L481.2 1518.5L488.4 1522.2L495.6 1525.9L502.8 1529.6L509.9 1533.3L517.1 1537.0L524.3 1540.6L531.5 1544.3L538.7 1548.0L545.9 1551.7L553.1 1555.4L560.2 1559.0L567.4 1562.7L574.6 1566.4L581.8 1570.1L589.0 1573.8L596.2 1577.5L603.3 1581.1L610.5 1584.8L617.7 1588.5L624.9 1592.2L632.1 1595.9L639.3 1599.6L646.4 1603.2L653.6 1606.9L660.8 1610.6L668.0 1614.3L675.2 1618.0L682.4 1621.6L689.6 1625.3L696.7 1629.0L703.9 1632.7L711.1 1636.4L718.3 1640.1L725.5 1643.7L732.7 1647.4L739.8 1651.1L747.0 1654.8L754.2 1658.5L761.4 1662.1L768.6 1665.8L775.8 1669.5L783.0 1673.2L790.1 1676.9L797.3 1680.6L804.5 1684.2L811.7 1687.9L818.9 1691.6L826.1 1695.3L833.2 1699.0L840.4 1702.7L847.6 1706.3L854.8 1710.0L862.0 1713.7L869.2 1717.4L876.4 1721.1L883.5 1724.7L890.7 1728.4L897.9 1732.1L905.1 1735.8L912.3 1739.5L919.5 1743.2L926.6 1746.8L933.8 1750.5L941.0 1754.2L948.2 1757.9L955.4 1761.6L962.6 1765.2L969.7 1768.9L976.9 1772.6L984.1 1776.3L991.3 1780.0L998.5 1783.7L1005.7 1787.3L1012.9 1791.0L1020.0 1794.7L1027.2 1798.4L1034.4 1802.1L1041.6 1805.8L1048.8 1809.4L1056.0 1813.1L1063.1 1816.8L1070.3 1820.5L1077.5 1824.2L1084.7 1827.8L1091.9 1831.5L1099.1 1835.2L1106.3 1838.9L1113.4 1842.6L1120.6 1846.3L1127.8 1849.9L1135.0 1853.6L1142.2 1857.3L1149.4 1861.0L1156.5 1864.7L1163.7 1868.3L1170.9 1872.0L1178.1 1875.7L1185.3 1879.4L1192.5 1883.1L1199.6 1886.8L1206.8 1890.4L1214.0 1894.1L1221.2 1897.8L1228.4 1901.5L1235.6 1905.2L1242.8 1908.9L1249.9 1912.5L1257.1 1916.2L1264.3 1919.9L1271.5 1923.6L1278.7 1927.3L1285.9 1930.9L1293.0 1934.6L1300.2 1938.3L1307.4 1942.0L1314.6 1945.7L1321.8 1949.4L1329.0 1953.0L1336.2 1956.7L1343.3 1960.4L1350.5 1964.1L1357.7 1967.8L1364.9 1971.4L1372.1 1975.1L1379.3 1978.8L1386.4 1982.5L1393.6 1986.2L1400.8 1989.9L1408.0 1993.5L1415.2 1997.2L1422.4 2000.9L1429.6 2004.6L1436.7 2008.3L1443.9 2012.0L1451.1 2015.6L1458.3 2019.3L1465.5 2023.0L1472.7 2026.7L1479.8 2030.4L1487.0 2034.0L1494.2 2037.7L1501.4 2041.4L1508.6 2045.1L1515.8 2048.8L1522.9 2052.5L1530.1 2056.1L1537.3 2059.8L1544.5 2063.5L1551.7 2067.2L1558.9 2070.9L1566.1 2074.5L1573.2 2078.2L1580.4 2081.9L1587.6 2085.6L1594.8 2089.3L1602.0 2093.0L1609.2 2096.6L1616.3 2100.3L1623.5 2104.0L1630.7 2107.7L1637.9 2111.4L1645.1 2115.1L1652.3 2118.7L1659.5 2122.4L1666.6 2126.1L1673.8 2129.8L1681.0 2133.5L1688.2 2137.1L1695.4 2140.8L1702.6 2144.5L1709.7 2148.2L1716.9 2151.9L1724.1 2155.6L1731.3 2159.2L1738.5 2162.9L1745.7 2166.6L1752.9 2170.3L1760.0 2174.0L1767.2 2177.7L1774.4 2181.3L1781.6 2185.0L1788.8 2188.7L1796.0 2192.4L1803.1 2196.1L1810.3 2199.7L1817.5 2203.4L1824.7 2207.1L1831.9 2210.8L1839.1 2214.5L1846.2 2218.2L1853.4 2221.8L1860.6 2225.5L1867.8 2229.2L1875.0 2232.9L1882.2 2236.6L1889.4 2240.2L1896.5 2243.9L1903.7 2247.6L1910.9 2251.3L1918.1 2255.0L1925.3 2258.7L1932.5 2262.3L1939.6 2266.0L1946.8 2269.7L1954.0 2273.4L1961.2 2277.1L1968.4 2280.8L1975.6 2284.4L1982.8 2288.1L1989.9 2291.8L1997.1 2295.5L2004.3 2299.2L2011.5 2302.8L2018.7 2306.5L2025.9 2310.2L2033.0 2313.9L2040.2 2317.6L2047.4 2321.3L2054.6 2324.9L2061.8 2328.6L2069.0 2332.3L2076.1 2336.0L2083.3 2339.7L2090.5 2343.3L2097.7 2347.0L2104.9 2350.7L2112.1 2354.4L2119.3 2358.1L2126.4 2361.8L2133.6 2365.4L2140.8 2369.1L2148.0 2372.8L2155.2 2376.5L2162.4 2380.2L2169.5 2383.9L2176.7 2387.5L2183.9 2391.2L2191.1 2394.9L2198.3 2398.6" fill="none" stroke="#000" stroke-width="6.60" stroke-dasharray="40.7 15.1 10.5 15.1" stroke-dashoffset="0.0"/>
<path d="M385.4 1641.5L392.9 1645.4L400.5 1649.3L408.0 1653.1L415.5 1657.0L423.1 1660.8L430.6 1664.7L438.1 1668.6L445.7 1672.4L453.2 1676.3L460.7 1680.2L468.3 1684.0L475.8 1687.9L483.3 1691.7L490.9 1695.6L498.4 1699.5L505.9 1703.3L513.5 1707.2L521.0 1711.0L528.5 1714.9L536.1 1718.8L543.6 1722.6L551.1 1726.5L558.7 1730.3L566.2 1734.2L573.7 1738.1L581.3 1741.9L588.8 1745.8L596.3 1749.6L603.9 1753.5L611.4 1757.4L618.9 1761.2L626.5 1765.1L634.0 1769.0L641.5 1772.8L649.0 1776.7L656.6 1780.5L664.1 1784.4L671.6 1788.3L679.2 1792.1L686.7 1796.0L694.2 1799.8L701.8 1803.7L709.3 1807.6L716.8 1811.4L724.4 1815.3L731.9 1819.1L739.4 1823.0L747.0 1826.9L754.5 1830.7L762.0 1834.6L769.6 1838.4L777.1 1842.3L784.6 1846.2L792.2 1850.0L799.7 1853.9L807.2 1857.8L814.8 1861.6L822.3 1865.5L829.8 1869.3L837.4 1873.2L844.9 1877.1L852.4 1880.9L860.0 1884.8L867.5 1888.6L875.0 1892.5L882.6 1896.4L890.1 1900.2L897.6 1904.1L905.2 1907.9L912.7 1911.8L920.2 1915.7L927.8 1919.5L935.3 1923.4L942.8 1927.2L950.4 1931.1L957.9 1935.0L965.4 1938.8L973.0 1942.7L980.5 1946.6L988.0 1950.4L995.6 1954.3L1003.1 1958.1L1010.6 1962.0L1018.2 1965.9L1025.7 1969.7L1033.2 1973.6L1040.8 1977.4L1048.3 1981.3L1055.8 1985.2L1063.4 1989.0L1070.9 1992.9L1078.4 1996.7L1086.0 2000.6L1093.5 2004.5L1101.0 2008.3L1108.6 2012.2L1116.1 2016.1L1123.6 2019.9L1131.2 2023.8L1138.7 2027.6L1146.2 2031.5L1153.8 2035.4L1161.3 2039.2L1168.8 2043.1L1176.4 2046.9L1183.9 2050.8L1191.4 2054.7L1199.0 2058.5L1206.5 2062.4L1214.0 2066.2L1221.6 2070.1L1229.1 2074.0L1236.6 2077.8L1244.2 2081.7L1251.7 2085.5L1259.2 2089.4L1266.8 2093.3L1274.3 2097.1L1281.8 2101.0L1289.4 2104.9L1296.9 2108.7L1304.4 2112.6L1312.0 2116.4L1319.5 2120.3L1327.0 2124.2L1334.6 2128.0L1342.1 2131.9L1349.6 2135.7L1357.2 2139.6L1364.7 2143.5L1372.2 2147.3L1379.8 2151.2L1387.3 2155.0L1394.8 2158.9L1402.4 2162.8L1409.9 2166.6L1417.4 2170.5L1425.0 2174.3L1432.5 2178.2L1440.0 2182.1L1447.6 2185.9L1455.1 2189.8L1462.6 2193.7L1470.2 2197.5L1477.7 2201.4L1485.2 2205.2L1492.8 2209.1L1500.3 2213.0L1507.8 2216.8L1515.4 2220.7L1522.9 2224.5L1530.4 2228.4L1538.0 2232.3L1545.5 2236.1L1553.0 2240.0L1560.6 2243.8L1568.1 2247.7L1575.6 2251.6L1583.2 2255.4L1590.7 2259.3L1598.2 2263.1L1605.8 2267.0L1613.3 2270.9L1620.8 2274.7L1628.4 2278.6L1635.9 2282.5L1643.4 2286.3L1651.0 2290.2L1658.5 2294.0L1666.0 2297.9L1673.6 2301.8L1681.1 2305.6L1688.6 2309.5L1696.2 2313.3L1703.7 2317.2L1711.2 2321.1L1718.8 2324.9L1726.3 2328.8L1733.8 2332.6L1741.4 2336.5L1748.9 2340.4L1756.4 2344.2L1764.0 2348.1L1771.5 2351.9L1779.0 2355.8L1786.6 2359.7L1794.1 2363.5L1801.6 2367.4L1809.2 2371.3L1816.7 2375.1L1824.2 2379.0L1831.8 2382.8L1839.3 2386.7L1846.8 2390.6L1854.4 2394.4L1861.9 2398.3L1869.4 2402.1L1877.0 2406.0L1884.5 2409.9L1892.0 2413.7L1899.6 2417.6L1907.1 2421.4L1914.6 2425.3L1922.2 2429.2L1929.7 2433.0L1937.2 2436.9L1944.8 2440.7L1952.3 2444.6L1959.8 2448.5L1967.4 2452.3L1974.9 2456.2L1982.4 2460.1L1990.0 2463.9L1997.5 2467.8L2005.0 2471.6L2012.6 2475.5L2020.1 2479.4L2027.6 2483.2L2035.2 2487.1L2042.7 2490.9L2050.2 2494.8L2057.8 2498.7L2065.3 2502.5L2072.8 2506.4L2080.4 2510.2L2087.9 2514.1L2095.4 2518.0L2103.0 2521.8L2110.5 2525.7L2118.0 2529.6L2125.6 2533.4L2133.1 2537.3L2140.6 2541.1L2148.2 2545.0L2155.7 2548.9L2163.2 2552.7L2170.7 2556.6L2178.3 2560.4L2185.8 2564.3L2193.3 2568.2" fill="none" stroke="#000" stroke-width="6.60" stroke-dasharray="40.7 15.1 10.5 15.1" stroke-dashoffset="0.0"/>
<path d="M430.5 1744.7L437.9 1748.5L445.2 1752.2L452.6 1756.0L460.0 1759.8L467.3 1763.6L474.7 1767.3L482.0 1771.1L489.4 1774.9L496.7 1778.6L504.1 1782.4L511.4 1786.2L518.8 1789.9L526.2 1793.7L533.5 1797.5L540.9 1801.3L548.2 1805.0L555.6 1808.8L562.9 1812.6L570.3 1816.3L577.6 1820.1L585.0 1823.9L592.3 1827.6L599.7 1831.4L607.1 1835.2L614.4 1838.9L621.8 1842.7L629.1 1846.5L636.5 1850.3L643.8 1854.0L651.2 1857.8L658.5 1861.6L665.9 1865.3L673.3 1869.1L680.6 1872.9L688.0 1876.6L695.3 1880.4L702.7 1884.2L710.0 1888.0L717.4 1891.7L724.7 1895.5L732.1 1899.3L739.5 1903.0L746.8 1906.8L754.2 1910.6L761.5 1914.3L768.9 1918.1L776.2 1921.9L783.6 1925.7L790.9 1929.4L798.3 1933.2L805.6 1937.0L813.0 1940.7L820.4 1944.5L827.7 1948.3L835.1 1952.0L842.4 1955.8L849.8 1959.6L857.1 1963.3L864.5 1967.1L871.8 1970.9L879.2 1974.7L886.6 1978.4L893.9 1982.2L901.3 1986.0L908.6 1989.7L916.0 1993.5L923.3 1997.3L930.7 2001.0L938.0 2004.8L945.4 2008.6L952.8 2012.4L960.1 2016.1L967.5 2019.9L974.8 2023.7L982.2 2027.4L989.5 2031.2L996.9 2035.0L1004.2 2038.7L1011.6 2042.5L1018.9 2046.3L1026.3 2050.1L1033.7 2053.8L1041.0 2057.6L1048.4 2061.4L1055.7 2065.1L1063.1 2068.9L1070.4 2072.7L1077.8 2076.4L1085.1 2080.2L1092.5 2084.0L1099.9 2087.7L1107.2 2091.5L1114.6 2095.3L1121.9 2099.1L1129.3 2102.8L1136.6 2106.6L1144.0 2110.4L1151.3 2114.1L1158.7 2117.9L1166.1 2121.7L1173.4 2125.4L1180.8 2129.2L1188.1 2133.0L1195.5 2136.8L1202.8 2140.5L1210.2 2144.3L1217.5 2148.1L1224.9 2151.8L1232.2 2155.6L1239.6 2159.4L1247.0 2163.1L1254.3 2166.9L1261.7 2170.7L1269.0 2174.5L1276.4 2178.2L1283.7 2182.0L1291.1 2185.8L1298.4 2189.5L1305.8 2193.3L1313.2 2197.1L1320.5 2200.8L1327.9 2204.6L1335.2 2208.4L1342.6 2212.1L1349.9 2215.9L1357.3 2219.7L1364.6 2223.5L1372.0 2227.2L1379.4 2231.0L1386.7 2234.8L1394.1 2238.5L1401.4 2242.3L1408.8 2246.1L1416.1 2249.8L1423.5 2253.6L1430.8 2257.4L1438.2 2261.2L1445.5 2264.9L1452.9 2268.7L1460.3 2272.5L1467.6 2276.2L1475.0 2280.0L1482.3 2283.8L1489.7 2287.5L1497.0 2291.3L1504.4 2295.1L1511.7 2298.8L1519.1 2302.6L1526.5 2306.4L1533.8 2310.2L1541.2 2313.9L1548.5 2317.7L1555.9 2321.5L1563.2 2325.2L1570.6 2329.0L1577.9 2332.8L1585.3 2336.5L1592.7 2340.3L1600.0 2344.1L1607.4 2347.9L1614.7 2351.6L1622.1 2355.4L1629.4 2359.2L1636.8 2362.9L1644.1 2366.7L1651.5 2370.5L1658.9 2374.2L1666.2 2378.0L1673.6 2381.8L1680.9 2385.6L1688.3 2389.3L1695.6 2393.1L1703.0 2396.9L1710.3 2400.6L1717.7 2404.4L1725.0 2408.2L1732.4 2411.9L1739.8 2415.7L1747.1 2419.5L1754.5 2423.2L1761.8 2427.0L1769.2 2430.8L1776.5 2434.6L1783.9 2438.3L1791.2 2442.1L1798.6 2445.9L1806.0 2449.6L1813.3 2453.4L1820.7 2457.2L1828.0 2460.9L1835.4 2464.7L1842.7 2468.5L1850.1 2472.3L1857.4 2476.0L1864.8 2479.8L1872.2 2483.6L1879.5 2487.3L1886.9 2491.1L1894.2 2494.9L1901.6 2498.6L1908.9 2502.4L1916.3 2506.2L1923.6 2510.0L1931.0 2513.7L1938.3 2517.5L1945.7 2521.3L1953.1 2525.0L1960.4 2528.8L1967.8 2532.6L1975.1 2536.3L1982.5 2540.1L1989.8 2543.9L1997.2 2547.6L2004.5 2551.4L2011.9 2555.2L2019.3 2559.0L2026.6 2562.7L2034.0 2566.5L2041.3 2570.3L2048.7 2574.0L2056.0 2577.8L2063.4 2581.6L2070.7 2585.3L2078.1 2589.1L2085.5 2592.9L2092.8 2596.7L2100.2 2600.4L2107.5 2604.2L2114.9 2608.0L2122.2 2611.7L2129.6 2615.5L2136.9 2619.3L2144.3 2623.0L2151.6 2626.8L2159.0 2630.6L2166.4 2634.4L2173.7 2638.1L2181.1 2641.9L2188.4 2645.7L2195.8 2649.4" fill="none" stroke="#000" stroke-width="6.60" stroke-dasharray="40.7 15.1 10.5 15.1" stroke-dashoffset="0.0"/>
<path d="M548.9 1858.1L555.8 1861.6L562.6 1865.1L569.5 1868.7L576.4 1872.2L583.3 1875.7L590.2 1879.3L597.1 1882.8L604.0 1886.3L610.9 1889.9L617.8 1893.4L624.7 1896.9L631.6 1900.5L638.5 1904.0L645.4 1907.5L652.2 1911.1L659.1 1914.6L666.0 1918.1L672.9 1921.6L679.8 1925.2L686.7 1928.7L693.6 1932.2L700.5 1935.8L707.4 1939.3L714.3 1942.8L721.2 1946.4L728.1 1949.9L735.0 1953.4L741.8 1957.0L748.7 1960.5L755.6 1964.0L762.5 1967.6L769.4 1971.1L776.3 1974.6L783.2 1978.2L790.1 1981.7L797.0 1985.2L803.9 1988.8L810.8 1992.3L817.7 1995.8L824.6 1999.4L831.4 2002.9L838.3 2006.4L845.2 2010.0L852.1 2013.5L859.0 2017.0L865.9 2020.6L872.8 2024.1L879.7 2027.6L886.6 2031.2L893.5 2034.7L900.4 2038.2L907.3 2041.8L914.2 2045.3L921.0 2048.8L927.9 2052.3L934.8 2055.9L941.7 2059.4L948.6 2062.9L955.5 2066.5L962.4 2070.0L969.3 2073.5L976.2 2077.1L983.1 2080.6L990.0 2084.1L996.9 2087.7L1003.8 2091.2L1010.6 2094.7L1017.5 2098.3L1024.4 2101.8L1031.3 2105.3L1038.2 2108.9L1045.1 2112.4L1052.0 2115.9L1058.9 2119.5L1065.8 2123.0L1072.7 2126.5L1079.6 2130.1L1086.5 2133.6L1093.4 2137.1L1100.2 2140.7L1107.1 2144.2L1114.0 2147.7L1120.9 2151.3L1127.8 2154.8L1134.7 2158.3L1141.6 2161.9L1148.5 2165.4L1155.4 2168.9L1162.3 2172.5L1169.2 2176.0L1176.1 2179.5L1183.0 2183.0L1189.8 2186.6L1196.7 2190.1L1203.6 2193.6L1210.5 2197.2L1217.4 2200.7L1224.3 2204.2L1231.2 2207.8L1238.1 2211.3L1245.0 2214.8L1251.9 2218.4L1258.8 2221.9L1265.7 2225.4L1272.6 2229.0L1279.4 2232.5L1286.3 2236.0L1293.2 2239.6L1300.1 2243.1L1307.0 2246.6L1313.9 2250.2L1320.8 2253.7L1327.7 2257.2L1334.6 2260.8L1341.5 2264.3L1348.4 2267.8L1355.3 2271.4L1362.2 2274.9L1369.0 2278.4L1375.9 2282.0L1382.8 2285.5L1389.7 2289.0L1396.6 2292.6L1403.5 2296.1L1410.4 2299.6L1417.3 2303.2L1424.2 2306.7L1431.1 2310.2L1438.0 2313.7L1444.9 2317.3L1451.8 2320.8L1458.6 2324.3L1465.5 2327.9L1472.4 2331.4L1479.3 2334.9L1486.2 2338.5L1493.1 2342.0L1500.0 2345.5L1506.9 2349.1L1513.8 2352.6L1520.7 2356.1L1527.6 2359.7L1534.5 2363.2L1541.4 2366.7L1548.2 2370.3L1555.1 2373.8L1562.0 2377.3L1568.9 2380.9L1575.8 2384.4L1582.7 2387.9L1589.6 2391.5L1596.5 2395.0L1603.4 2398.5L1610.3 2402.1L1617.2 2405.6L1624.1 2409.1L1630.9 2412.7L1637.8 2416.2L1644.7 2419.7L1651.6 2423.3L1658.5 2426.8L1665.4 2430.3L1672.3 2433.9L1679.2 2437.4L1686.1 2440.9L1693.0 2444.4L1699.9 2448.0L1706.8 2451.5L1713.7 2455.0L1720.5 2458.6L1727.4 2462.1L1734.3 2465.6L1741.2 2469.2L1748.1 2472.7L1755.0 2476.2L1761.9 2479.8L1768.8 2483.3L1775.7 2486.8L1782.6 2490.4L1789.5 2493.9L1796.4 2497.4L1803.3 2501.0L1810.1 2504.5L1817.0 2508.0L1823.9 2511.6L1830.8 2515.1L1837.7 2518.6L1844.6 2522.2L1851.5 2525.7L1858.4 2529.2L1865.3 2532.8L1872.2 2536.3L1879.1 2539.8L1886.0 2543.4L1892.9 2546.9L1899.7 2550.4L1906.6 2554.0L1913.5 2557.5L1920.4 2561.0L1927.3 2564.6L1934.2 2568.1L1941.1 2571.6L1948.0 2575.1L1954.9 2578.7L1961.8 2582.2L1968.7 2585.7L1975.6 2589.3L1982.5 2592.8L1989.3 2596.3L1996.2 2599.9L2003.1 2603.4L2010.0 2606.9L2016.9 2610.5L2023.8 2614.0L2030.7 2617.5L2037.6 2621.1L2044.5 2624.6L2051.4 2628.1L2058.3 2631.7L2065.2 2635.2L2072.1 2638.7L2078.9 2642.3L2085.8 2645.8L2092.7 2649.3L2099.6 2652.9L2106.5 2656.4L2113.4 2659.9L2120.3 2663.5L2127.2 2667.0L2134.1 2670.5L2141.0 2674.1L2147.9 2677.6L2154.8 2681.1L2161.7 2684.7L2168.5 2688.2L2175.4 2691.7L2182.3 2695.3L2189.2 2698.8L2196.1 2702.3L2203.0 2705.8" fill="none" stroke="#000" stroke-width="6.60" stroke-dasharray="40.7 15.1 10.5 15.1" stroke-dashoffset="0.0"/>
<path d="M856.6 2055.2L862.3 2058.1L868.0 2061.0L873.8 2064.0L879.5 2066.9L885.2 2069.8L890.9 2072.7L896.6 2075.7L902.4 2078.6L908.1 2081.5L913.8 2084.5L919.5 2087.4L925.2 2090.3L931.0 2093.3L936.7 2096.2L942.4 2099.1L948.1 2102.1L953.8 2105.0L959.5 2107.9L965.3 2110.8L971.0 2113.8L976.7 2116.7L982.4 2119.6L988.1 2122.6L993.9 2125.5L999.6 2128.4L1005.3 2131.4L1011.0 2134.3L1016.7 2137.2L1022.5 2140.2L1028.2 2143.1L1033.9 2146.0L1039.6 2149.0L1045.3 2151.9L1051.1 2154.8L1056.8 2157.7L1062.5 2160.7L1068.2 2163.6L1073.9 2166.5L1079.6 2169.5L1085.4 2172.4L1091.1 2175.3L1096.8 2178.3L1102.5 2181.2L1108.2 2184.1L1114.0 2187.1L1119.7 2190.0L1125.4 2192.9L1131.1 2195.9L1136.8 2198.8L1142.6 2201.7L1148.3 2204.6L1154.0 2207.6L1159.7 2210.5L1165.4 2213.4L1171.1 2216.4L1176.9 2219.3L1182.6 2222.2L1188.3 2225.2L1194.0 2228.1L1199.7 2231.0L1205.5 2234.0L1211.2 2236.9L1216.9 2239.8L1222.6 2242.7L1228.3 2245.7L1234.1 2248.6L1239.8 2251.5L1245.5 2254.5L1251.2 2257.4L1256.9 2260.3L1262.7 2263.3L1268.4 2266.2L1274.1 2269.1L1279.8 2272.1L1285.5 2275.0L1291.2 2277.9L1297.0 2280.9L1302.7 2283.8L1308.4 2286.7L1314.1 2289.6L1319.8 2292.6L1325.6 2295.5L1331.3 2298.4L1337.0 2301.4L1342.7 2304.3L1348.4 2307.2L1354.2 2310.2L1359.9 2313.1L1365.6 2316.0L1371.3 2319.0L1377.0 2321.9L1382.8 2324.8L1388.5 2327.8L1394.2 2330.7L1399.9 2333.6L1405.6 2336.5L1411.3 2339.5L1417.1 2342.4L1422.8 2345.3L1428.5 2348.3L1434.2 2351.2L1439.9 2354.1L1445.7 2357.1L1451.4 2360.0L1457.1 2362.9L1462.8 2365.9L1468.5 2368.8L1474.3 2371.7L1480.0 2374.6L1485.7 2377.6L1491.4 2380.5L1497.1 2383.4L1502.9 2386.4L1508.6 2389.3L1514.3 2392.2L1520.0 2395.2L1525.7 2398.1L1531.4 2401.0L1537.2 2404.0L1542.9 2406.9L1548.6 2409.8L1554.3 2412.8L1560.0 2415.7L1565.8 2418.6L1571.5 2421.5L1577.2 2424.5L1582.9 2427.4L1588.6 2430.3L1594.4 2433.3L1600.1 2436.2L1605.8 2439.1L1611.5 2442.1L1617.2 2445.0L1623.0 2447.9L1628.7 2450.9L1634.4 2453.8L1640.1 2456.7L1645.8 2459.7L1651.5 2462.6L1657.3 2465.5L1663.0 2468.4L1668.7 2471.4L1674.4 2474.3L1680.1 2477.2L1685.9 2480.2L1691.6 2483.1L1697.3 2486.0L1703.0 2489.0L1708.7 2491.9L1714.5 2494.8L1720.2 2497.8L1725.9 2500.7L1731.6 2503.6L1737.3 2506.5L1743.1 2509.5L1748.8 2512.4L1754.5 2515.3L1760.2 2518.3L1765.9 2521.2L1771.6 2524.1L1777.4 2527.1L1783.1 2530.0L1788.8 2532.9L1794.5 2535.9L1800.2 2538.8L1806.0 2541.7L1811.7 2544.7L1817.4 2547.6L1823.1 2550.5L1828.8 2553.4L1834.6 2556.4L1840.3 2559.3L1846.0 2562.2L1851.7 2565.2L1857.4 2568.1L1863.2 2571.0L1868.9 2574.0L1874.6 2576.9L1880.3 2579.8L1886.0 2582.8L1891.7 2585.7L1897.5 2588.6L1903.2 2591.6L1908.9 2594.5L1914.6 2597.4L1920.3 2600.3L1926.1 2603.3L1931.8 2606.2L1937.5 2609.1L1943.2 2612.1L1948.9 2615.0L1954.7 2617.9L1960.4 2620.9L1966.1 2623.8L1971.8 2626.7L1977.5 2629.7L1983.3 2632.6L1989.0 2635.5L1994.7 2638.4L2000.4 2641.4L2006.1 2644.3L2011.8 2647.2L2017.6 2650.2L2023.3 2653.1L2029.0 2656.0L2034.7 2659.0L2040.4 2661.9L2046.2 2664.8L2051.9 2667.8L2057.6 2670.7L2063.3 2673.6L2069.0 2676.6L2074.8 2679.5L2080.5 2682.4L2086.2 2685.3L2091.9 2688.3L2097.6 2691.2L2103.4 2694.1L2109.1 2697.1L2114.8 2700.0L2120.5 2702.9L2126.2 2705.9L2131.9 2708.8L2137.7 2711.7L2143.4 2714.7L2149.1 2717.6L2154.8 2720.5L2160.5 2723.5L2166.3 2726.4L2172.0 2729.3L2177.7 2732.2L2183.4 2735.2L2189.1 2738.1L2194.9 2741.0L2200.6 2744.0L2206.3 2746.9L2212.0 2749.8L2217.7 2752.8L2223.4 2755.7L2229.2 2758.6" fill="none" stroke="#000" stroke-width="6.60" stroke-dasharray="40.7 15.1 10.5 15.1" stroke-dashoffset="0.0"/>
<path d="M473.01 1600.66L477.31 1612.36L629.88 1612.36Q630.83 1612.36 631.57 1612.96L644.16 1623.04L657.21 1633.36L669.99 1643.36L682.51 1653.04L694.77 1662.44L706.80 1671.56L718.59 1680.42L730.16 1689.04L741.51 1697.43L752.66 1705.60L763.61 1713.56L773.75 1720.88Q774.36 1721.33 775.11 1721.33L847.25 1721.33Q847.92 1721.33 848.49 1721.68L863.01 1730.84L877.73 1740.08L892.11 1749.05L906.15 1757.77L919.88 1766.25L933.31 1774.51L946.45 1782.56L959.31 1790.41L971.91 1798.07L984.26 1805.54L996.36 1812.84L1007.78 1819.71Q1008.22 1819.97 1008.74 1819.97L1050.87 1819.97Q1051.35 1819.97 1051.76 1820.22L1064.51 1827.97L1077.40 1835.76L1090.03 1843.37L1102.39 1850.80L1114.51 1858.05L1126.40 1865.14L1138.06 1872.07L1149.50 1878.86L1160.73 1885.50L1171.76 1892.00L1182.59 1898.37L1192.91 1904.42Q1193.24 1904.61 1193.61 1904.61L1223.89 1904.61Q1224.25 1904.61 1224.56 1904.80L1234.89 1911.20L1245.35 1917.66L1255.63 1923.98L1265.74 1930.18L1275.69 1936.26L1285.48 1942.23L1295.11 1948.08L1304.60 1953.83L1313.94 1959.47L1323.14 1965.01L1332.20 1970.46L1340.87 1975.66Q1341.13 1975.81 1341.43 1975.81L1366.33 1975.81Q1366.62 1975.81 1366.86 1975.96L1375.54 1981.29L1384.34 1986.68L1393.01 1991.98L1401.56 1997.18L1409.99 2002.31L1418.30 2007.35L1426.51 2012.31L1434.61 2017.19L1442.60 2022.00L1450.48 2026.74L1458.27 2031.40L1465.75 2035.88Q1465.96 2036.00 1466.20 2036.00L1487.05 2036.00Q1487.28 2036.00 1487.48 2036.12L1494.70 2040.64L1502.04 2045.21L1509.29 2049.72L1516.45 2054.16L1523.53 2058.54L1530.53 2062.86L1537.45 2067.12L1544.29 2071.32L1551.06 2075.47L1557.75 2079.56L1564.37 2083.60L1570.74 2087.48Q1570.92 2087.59 1571.12 2087.59L1584.67 2087.59Q1584.87 2087.59 1585.05 2087.69L1591.79 2091.59L1598.62 2095.54L1605.39 2099.43L1612.07 2103.28L1618.69 2107.09L1625.23 2110.84L1631.71 2114.56L1638.11 2118.23L1644.45 2121.85L1650.73 2125.44L1656.94 2128.98L1662.93 2132.40Q1663.09 2132.49 1663.26 2132.49L1677.16 2132.49Q1677.33 2132.49 1677.48 2132.58L1682.98 2135.99L1688.58 2139.45L1694.12 2142.87L1699.62 2146.26L1705.06 2149.61L1710.46 2152.93L1715.81 2156.21L1721.11 2159.45L1726.37 2162.67L1731.59 2165.85L1736.76 2168.99L1741.75 2172.03Q1741.88 2172.11 1742.04 2172.11L1754.57 2172.11Q1754.73 2172.11 1754.85 2172.19L1759.77 2175.22L1764.77 2178.29L1769.73 2181.34L1774.65 2184.36L1779.53 2187.35L1784.37 2190.31L1789.17 2193.24L1793.94 2196.14L1798.67 2199.02L1803.36 2201.87L1808.02 2204.70L1812.52 2207.43Q1812.64 2207.50 1812.78 2207.50L1823.96 2207.50Q1824.09 2207.50 1824.21 2207.57L1828.62 2210.29L1833.11 2213.06L1837.57 2215.80L1842.00 2218.51L1846.39 2221.21L1850.76 2223.88L1855.09 2226.53L1859.40 2229.15L1863.67 2231.76L1867.91 2234.34L1872.13 2236.90L1876.20 2239.38Q1876.31 2239.44 1876.43 2239.44L1886.52 2239.44Q1886.64 2239.44 1886.74 2239.51L1890.74 2241.97L1894.82 2244.48L1898.87 2246.97L1902.89 2249.44L1906.88 2251.89L1910.85 2254.32L1914.80 2256.73L1918.72 2259.12L1922.61 2261.50L1926.48 2263.86L1930.33 2266.20L1934.05 2268.46Q1934.15 2268.52 1934.26 2268.52L1943.44 2268.52Q1943.55 2268.52 1943.64 2268.58L1947.30 2270.83L1951.03 2273.13L1954.73 2275.41L1958.41 2277.67L1962.08 2279.91L1965.71 2282.14L1969.33 2284.36L1972.93 2286.55L1976.50 2288.74L1980.06 2290.90L1983.59 2293.06L1987.01 2295.14Q1987.10 2295.20 1987.21 2295.20L1995.63 2295.20Q1995.73 2295.20 1995.82 2295.25L1999.18 2297.32L2002.62 2299.44L2006.03 2301.54L2009.42 2303.62L2012.80 2305.69L2016.16 2307.75L2019.50 2309.80L2022.82 2311.83L2026.12 2313.85L2029.41 2315.85L2032.67 2317.85L2035.84 2319.78Q2035.92 2319.83 2036.02 2319.83L2043.80 2319.83Q2043.89 2319.83 2043.97 2319.88L2047.09 2321.80L2050.27 2323.76L2053.43 2325.70L2056.58 2327.64L2059.71 2329.56L2062.83 2331.47L2065.93 2333.37L2069.01 2335.26L2072.08 2337.13L2075.14 2339.00L2078.17 2340.85L2081.12 2342.65Q2081.20 2342.70 2081.29 2342.70L2088.51 2342.70Q2088.60 2342.70 2088.68 2342.74L2091.58 2344.53L2094.54 2346.36L2097.49 2348.17L2100.42 2349.97L2103.34 2351.77L2106.25 2353.55L2109.14 2355.32L2112.02 2357.08L2114.88 2358.84L2117.73 2360.58L2120.57 2362.31L2123.32 2363.99Q2123.40 2364.04 2123.48 2364.04L2130.23 2364.04Q2130.31 2364.04 2130.38 2364.08L2133.09 2365.75L2135.86 2367.46L2138.62 2369.16L2141.37 2370.85L2144.10 2372.53L2146.82 2374.20L2149.53 2375.86L2152.23 2377.51L2154.92 2379.15L2157.59 2380.79L2160.25 2382.42L2162.84 2384.00Q2162.91 2384.04 2162.98 2384.04L2169.31 2384.04Q2169.39 2384.04 2169.45 2384.08L2172.00 2385.65L2174.61 2387.25L2177.20 2388.85L2179.78 2390.43L2182.35 2392.01L2184.91 2393.59L2187.46 2395.15L2190.00 2396.70L2192.52 2398.25L2195.04 2399.79L2197.55 2401.33L2198.28 2401.78" fill="none" stroke="#000" stroke-width="6.50" stroke-linejoin="round"/>
<path d="M385.03 1710.45L388.83 1723.65L564.84 1723.65Q566.96 1723.65 568.24 1725.33L573.75 1732.57L580.46 1741.35L587.10 1749.98L593.67 1758.47L600.16 1766.83L606.59 1775.06L612.96 1783.17L619.25 1791.16L625.49 1799.03L631.66 1806.80L637.77 1814.45L642.65 1820.55Q643.82 1822.00 645.68 1822.00L752.94 1822.00Q754.49 1822.00 755.59 1823.11L762.06 1829.64L769.54 1837.15L776.93 1844.54L784.23 1851.82L791.44 1858.98L798.57 1866.04L805.62 1873.00L812.58 1879.85L819.47 1886.61L826.28 1893.27L833.02 1899.84L838.71 1905.38Q839.68 1906.33 841.04 1906.33L915.15 1906.33Q916.34 1906.33 917.22 1907.14L923.22 1912.68L930.02 1918.95L936.75 1925.13L943.40 1931.23L949.98 1937.25L956.49 1943.18L962.94 1949.04L969.31 1954.83L975.62 1960.54L981.87 1966.18L988.05 1971.75L993.39 1976.55Q994.17 1977.26 995.22 1977.26L1051.94 1977.26Q1052.90 1977.26 1053.61 1977.89L1058.81 1982.57L1064.67 1987.83L1070.47 1993.02L1076.22 1998.16L1081.92 2003.23L1087.56 2008.25L1093.15 2013.21L1098.69 2018.12L1104.18 2022.97L1109.62 2027.78L1115.01 2032.53L1119.71 2036.66Q1120.35 2037.23 1121.21 2037.23L1166.37 2037.23Q1167.16 2037.23 1167.77 2037.75L1172.44 2041.76L1177.67 2046.24L1182.85 2050.67L1187.99 2055.06L1193.09 2059.40L1198.15 2063.70L1203.16 2067.96L1208.14 2072.18L1213.07 2076.36L1217.97 2080.49L1222.82 2084.59L1227.09 2088.19Q1227.64 2088.65 1228.36 2088.65L1266.70 2088.65Q1267.38 2088.65 1267.88 2089.10L1271.80 2092.56L1276.19 2096.44L1280.55 2100.28L1284.88 2104.09L1289.18 2107.86L1293.45 2111.60L1297.69 2115.32L1301.90 2119.00L1306.08 2122.65L1310.23 2126.27L1314.35 2129.86L1317.98 2133.02Q1318.45 2133.42 1319.07 2133.42L1354.70 2133.42Q1355.28 2133.42 1355.72 2133.81L1359.20 2136.85L1363.09 2140.26L1366.96 2143.64L1370.81 2146.99L1374.63 2150.32L1378.43 2153.62L1382.20 2156.90L1385.95 2160.16L1389.68 2163.39L1393.39 2166.59L1397.07 2169.78L1400.32 2172.59Q1400.73 2172.94 1401.27 2172.94L1429.97 2172.94Q1430.49 2172.94 1430.87 2173.28L1433.90 2175.99L1437.29 2179.02L1440.67 2182.03L1444.02 2185.02L1447.36 2187.99L1450.68 2190.94L1453.98 2193.87L1457.26 2196.78L1460.53 2199.68L1463.78 2202.55L1467.01 2205.41L1469.86 2207.93Q1470.22 2208.25 1470.71 2208.25L1498.16 2208.25Q1498.62 2208.25 1498.97 2208.55L1501.75 2210.99L1504.87 2213.72L1507.98 2216.43L1511.06 2219.13L1514.14 2221.81L1517.19 2224.47L1520.23 2227.12L1523.26 2229.75L1526.27 2232.36L1529.27 2234.96L1532.25 2237.55L1534.89 2239.83Q1535.22 2240.11 1535.65 2240.11L1559.63 2240.11Q1560.05 2240.11 1560.36 2240.39L1562.91 2242.61L1565.76 2245.09L1568.59 2247.55L1571.42 2250.00L1574.22 2252.44L1577.02 2254.87L1579.80 2257.28L1582.58 2259.67L1585.33 2262.06L1588.08 2264.43L1590.81 2266.79L1593.24 2268.88Q1593.54 2269.14 1593.93 2269.14L1615.77 2269.14Q1616.15 2269.14 1616.43 2269.39L1618.77 2271.42L1621.38 2273.69L1623.98 2275.95L1626.57 2278.19L1629.15 2280.43L1631.71 2282.65L1634.27 2284.86L1636.82 2287.07L1639.35 2289.26L1641.88 2291.44L1644.39 2293.60L1646.62 2295.53Q1646.89 2295.76 1647.26 2295.76L1667.30 2295.76Q1667.65 2295.76 1667.91 2295.99L1670.07 2297.87L1672.48 2299.96L1674.87 2302.04L1677.26 2304.11L1679.65 2306.18L1682.02 2308.23L1684.38 2310.27L1686.73 2312.31L1689.08 2314.33L1691.41 2316.35L1693.74 2318.35L1695.80 2320.13Q1696.05 2320.35 1696.39 2320.35L1714.91 2320.35Q1715.23 2320.35 1715.47 2320.56L1717.47 2322.30L1719.71 2324.24L1721.94 2326.17L1724.15 2328.10L1726.36 2330.01L1728.57 2331.92L1730.76 2333.82L1732.95 2335.71L1735.13 2337.59L1737.30 2339.46L1739.46 2341.33L1741.39 2342.98Q1741.62 2343.19 1741.93 2343.19L1759.14 2343.19Q1759.44 2343.19 1759.67 2343.38L1761.53 2345.00L1763.61 2346.81L1765.69 2348.61L1767.76 2350.40L1769.82 2352.19L1771.88 2353.97L1773.93 2355.74L1775.97 2357.51L1778.01 2359.26L1780.03 2361.01L1782.06 2362.76L1783.85 2364.31Q1784.07 2364.49 1784.36 2364.49L1800.43 2364.49Q1800.71 2364.49 1800.92 2364.68L1802.67 2366.19L1804.62 2367.89L1806.57 2369.57L1808.51 2371.25L1810.44 2372.93L1812.37 2374.59L1814.29 2376.25L1816.20 2377.91L1818.11 2379.56L1820.02 2381.20L1821.91 2382.84L1823.60 2384.29Q1823.80 2384.47 1824.07 2384.47L1839.15 2384.47Q1839.41 2384.47 1839.61 2384.64L1841.25 2386.06L1843.08 2387.65L1844.91 2389.24L1846.74 2390.82L1848.56 2392.39L1850.37 2393.96L1852.18 2395.52L1853.98 2397.08L1855.78 2398.63L1857.57 2400.18L1859.36 2401.72L1860.95 2403.09Q1861.14 2403.26 1861.39 2403.26L1875.58 2403.26Q1875.83 2403.26 1876.02 2403.42L1877.57 2404.76L1879.30 2406.26L1881.03 2407.76L1882.75 2409.25L1884.46 2410.74L1886.18 2412.22L1887.88 2413.69L1889.59 2415.16L1891.28 2416.63L1892.98 2418.09L1894.66 2419.55L1896.17 2420.84Q1896.35 2421.00 1896.59 2421.00L1909.99 2421.00Q1910.23 2421.00 1910.40 2421.15L1911.87 2422.42L1913.51 2423.84L1915.14 2425.26L1916.77 2426.67L1918.40 2428.07L1920.02 2429.48L1921.64 2430.87L1923.25 2432.27L1924.86 2433.66L1926.46 2435.04L1928.06 2436.42L1929.49 2437.65Q1929.66 2437.80 1929.89 2437.80L1942.59 2437.80Q1942.81 2437.80 1942.98 2437.94L1944.37 2439.15L1945.92 2440.50L1947.47 2441.84L1949.02 2443.18L1950.56 2444.51L1952.10 2445.84L1953.64 2447.17L1955.17 2448.49L1956.70 2449.81L1958.22 2451.13L1959.74 2452.44L1961.10 2453.61Q1961.26 2453.75 1961.48 2453.75L1973.54 2453.75Q1973.76 2453.75 1973.92 2453.89L1975.24 2455.03L1976.72 2456.32L1978.19 2457.59L1979.67 2458.87L1981.14 2460.14L1982.60 2461.41L1984.06 2462.67L1985.52 2463.93L1986.98 2465.19L1988.43 2466.44L1989.88 2467.69L1991.17 2468.80Q1991.32 2468.93 1991.53 2468.93L2003.02 2468.93Q2003.22 2468.93 2003.38 2469.07L2004.64 2470.16L2006.05 2471.38L2007.46 2472.60L2008.86 2473.82L2010.26 2475.03L2011.66 2476.24L2013.06 2477.44L2014.45 2478.65L2015.84 2479.85L2017.22 2481.04L2018.60 2482.23L2019.84 2483.29Q2019.98 2483.42 2020.18 2483.42L2031.15 2483.42Q2031.34 2483.42 2031.49 2483.55L2032.70 2484.59L2034.05 2485.76L2035.39 2486.93L2036.73 2488.09L2038.07 2489.25L2039.41 2490.40L2040.74 2491.56L2042.08 2492.71L2043.40 2493.85L2044.73 2495.00L2046.05 2496.14L2047.23 2497.15Q2047.37 2497.28 2047.56 2497.28L2058.05 2497.28Q2058.24 2497.28 2058.38 2497.40L2059.53 2498.40L2060.82 2499.52L2062.11 2500.63L2063.40 2501.74L2064.68 2502.85L2065.96 2503.96L2067.24 2505.07L2068.52 2506.17L2069.79 2507.27L2071.06 2508.36L2072.33 2509.46L2073.45 2510.43Q2073.59 2510.55 2073.77 2510.55L2083.83 2510.55Q2084.00 2510.55 2084.14 2510.66L2085.25 2511.62L2086.48 2512.69L2087.72 2513.77L2088.96 2514.83L2090.19 2515.90L2091.42 2516.96L2092.64 2518.02L2093.87 2519.08L2095.09 2520.13L2096.31 2521.18L2097.52 2522.23L2098.61 2523.17Q2098.74 2523.28 2098.91 2523.28L2108.57 2523.28Q2108.74 2523.28 2108.86 2523.39L2109.93 2524.31L2111.12 2525.34L2112.31 2526.37L2113.49 2527.40L2114.67 2528.42L2115.86 2529.44L2117.03 2530.46L2118.21 2531.48L2119.39 2532.49L2120.56 2533.50L2121.73 2534.51L2122.77 2535.41Q2122.89 2535.52 2123.06 2535.52L2132.35 2535.52Q2132.51 2535.52 2132.63 2535.63L2133.66 2536.51L2134.80 2537.51L2135.94 2538.50L2137.09 2539.48L2138.22 2540.47L2139.36 2541.45L2140.50 2542.43L2141.63 2543.41L2142.76 2544.39L2143.89 2545.36L2145.01 2546.33L2146.02 2547.20Q2146.14 2547.30 2146.30 2547.30L2155.24 2547.30Q2155.40 2547.30 2155.52 2547.41L2156.50 2548.26L2157.61 2549.22L2158.71 2550.17L2159.81 2551.12L2160.91 2552.07L2162.00 2553.02L2163.09 2553.96L2164.19 2554.91L2165.28 2555.85L2166.36 2556.79L2167.45 2557.72L2168.42 2558.56Q2168.53 2558.66 2168.69 2558.66L2177.31 2558.66Q2177.46 2558.66 2177.58 2558.76L2178.53 2559.58L2179.59 2560.51L2180.66 2561.43L2181.72 2562.34L2182.78 2563.26L2183.84 2564.17L2184.89 2565.09L2185.94 2566.00L2187.00 2566.91L2188.05 2567.81L2189.10 2568.72L2190.03 2569.52Q2190.14 2569.62 2190.29 2569.62L2193.35 2569.62" fill="none" stroke="#000" stroke-width="6.50" stroke-linejoin="round"/>
<path d="M430.09 1791.96L433.89 1808.06L599.91 1808.06Q603.40 1808.06 604.79 1811.26L639.70 1891.53Q641.00 1894.54 644.28 1894.54L758.88 1894.54Q761.57 1894.54 762.98 1896.83L804.94 1965.21Q806.25 1967.34 808.75 1967.34L893.54 1967.34Q895.70 1967.34 896.94 1969.11L937.67 2027.15Q938.83 2028.80 940.84 2028.80L1009.34 2028.80Q1011.13 2028.80 1012.17 2030.25L1047.94 2080.01Q1048.93 2081.38 1050.61 2081.38L1108.95 2081.38Q1110.47 2081.38 1111.38 2082.60L1143.63 2125.89Q1144.49 2127.05 1145.93 2127.05L1195.69 2127.05Q1197.01 2127.05 1197.80 2128.11L1226.02 2166.27Q1226.77 2167.28 1228.03 2167.28L1271.83 2167.28Q1273.00 2167.28 1273.70 2168.21L1299.27 2202.27Q1299.94 2203.17 1301.06 2203.17L1341.54 2203.17Q1342.58 2203.17 1343.19 2204.01L1365.24 2234.70Q1365.82 2235.51 1366.82 2235.51L1402.09 2235.51Q1403.03 2235.51 1403.60 2236.26L1424.78 2264.21Q1425.33 2264.93 1426.24 2264.93L1458.33 2264.93Q1459.19 2264.93 1459.71 2265.61L1479.19 2291.23Q1479.69 2291.89 1480.52 2291.89L1509.95 2291.89Q1510.74 2291.89 1511.22 2292.52L1529.24 2316.16Q1529.70 2316.77 1530.47 2316.77L1557.64 2316.77Q1558.37 2316.77 1558.81 2317.35L1575.57 2339.29Q1576.00 2339.85 1576.71 2339.85L1601.94 2339.85Q1602.62 2339.85 1603.03 2340.39L1618.68 2360.85Q1619.08 2361.38 1619.75 2361.38L1643.29 2361.38Q1643.93 2361.38 1644.31 2361.88L1658.99 2381.05Q1659.37 2381.54 1659.99 2381.54L1682.06 2381.54Q1682.66 2381.54 1683.02 2382.01L1697.02 2400.04Q1697.38 2400.50 1697.96 2400.50L1718.42 2400.50Q1718.98 2400.50 1719.33 2400.94L1732.84 2417.96Q1733.19 2418.39 1733.73 2418.39L1752.75 2418.39Q1753.29 2418.39 1753.62 2418.80L1766.70 2434.92Q1767.03 2435.32 1767.55 2435.32L1785.28 2435.32Q1785.79 2435.32 1786.11 2435.71L1798.80 2451.02Q1799.11 2451.40 1799.61 2451.40L1816.18 2451.40Q1816.66 2451.40 1816.97 2451.76L1829.31 2466.34Q1829.61 2466.69 1830.08 2466.69L1845.61 2466.69Q1846.07 2466.69 1846.36 2467.04L1858.37 2480.94Q1858.67 2481.28 1859.11 2481.28L1873.69 2481.28Q1874.13 2481.28 1874.42 2481.61L1886.13 2494.91Q1886.41 2495.23 1886.84 2495.23L1900.55 2495.23Q1900.97 2495.23 1901.25 2495.54L1912.69 2508.28Q1912.96 2508.58 1913.37 2508.58L1926.29 2508.58Q1926.69 2508.58 1926.96 2508.88L1938.15 2521.11Q1938.41 2521.40 1938.81 2521.40L1950.99 2521.40Q1951.37 2521.40 1951.63 2521.68L1962.59 2533.43Q1962.85 2533.71 1963.23 2533.71L1974.73 2533.71Q1975.10 2533.71 1975.36 2533.98L1986.10 2545.29Q1986.35 2545.56 1986.72 2545.56L1997.60 2545.56Q1997.95 2545.56 1998.20 2545.81L2008.75 2556.72Q2008.99 2556.98 2009.34 2556.98L2019.64 2556.98Q2019.98 2556.98 2020.22 2557.22L2030.59 2567.75Q2030.82 2567.99 2031.16 2567.99L2040.92 2567.99Q2041.25 2567.99 2041.48 2568.23L2051.67 2578.41Q2051.90 2578.64 2052.23 2578.64L2061.48 2578.64Q2061.80 2578.64 2062.03 2578.87L2072.06 2588.72Q2072.29 2588.94 2072.60 2588.94L2081.38 2588.94Q2081.69 2588.94 2081.92 2589.16L2091.79 2598.70Q2092.01 2598.91 2092.32 2598.91L2100.66 2598.91Q2100.96 2598.91 2101.17 2599.12L2110.91 2608.37Q2111.12 2608.58 2111.42 2608.58L2119.34 2608.58Q2119.63 2608.58 2119.85 2608.77L2129.45 2617.76Q2129.66 2617.95 2129.94 2617.95L2137.48 2617.95Q2137.76 2617.95 2137.97 2618.14L2147.44 2626.87Q2147.65 2627.06 2147.93 2627.06L2155.09 2627.06Q2155.36 2627.06 2155.57 2627.24L2164.88 2635.72Q2165.08 2635.91 2165.35 2635.91L2172.24 2635.91Q2172.51 2635.91 2172.71 2636.09L2181.80 2644.33Q2181.99 2644.51 2182.26 2644.51L2188.96 2644.51Q2189.22 2644.51 2189.41 2644.69L2195.78 2650.47" fill="none" stroke="#000" stroke-width="6.50" stroke-linejoin="round"/>
<path d="M548.63 1888.11L552.23 1905.11L693.35 1905.11Q696.34 1905.11 697.02 1908.03L712.07 1973.39Q712.72 1976.23 715.64 1976.23L823.40 1976.23Q825.82 1976.23 826.54 1978.55L843.83 2034.11Q844.53 2036.36 846.88 2036.36L932.54 2036.36Q934.56 2036.36 935.25 2038.27L952.32 2086.05Q952.98 2087.90 954.95 2087.90L1027.32 2087.90Q1029.06 2087.90 1029.74 2089.50L1047.40 2131.21Q1048.05 2132.76 1049.74 2132.76L1110.40 2132.76Q1111.92 2132.76 1112.56 2134.14L1129.72 2171.02Q1130.34 2172.35 1131.81 2172.35L1185.69 2172.35Q1187.03 2172.35 1187.62 2173.56L1203.52 2206.54Q1204.09 2207.72 1205.40 2207.72L1252.90 2207.72Q1254.10 2207.72 1254.58 2208.82L1267.58 2238.56Q1268.05 2239.64 1269.23 2239.64L1312.36 2239.64Q1313.45 2239.64 1313.92 2240.62L1326.66 2267.73Q1327.11 2268.70 1328.18 2268.70L1367.48 2268.70Q1368.47 2268.70 1368.90 2269.60L1380.68 2294.48Q1381.10 2295.36 1382.07 2295.36L1418.15 2295.36Q1419.07 2295.36 1419.46 2296.19L1430.40 2319.17Q1430.78 2319.98 1431.69 2319.98L1465.02 2319.98Q1465.87 2319.98 1466.24 2320.75L1476.44 2342.08Q1476.80 2342.84 1477.64 2342.84L1508.62 2342.84Q1509.41 2342.84 1509.76 2343.55L1519.31 2363.47Q1519.65 2364.17 1520.43 2364.17L1549.36 2364.17Q1550.10 2364.17 1550.43 2364.84L1559.40 2383.50Q1559.72 2384.16 1560.45 2384.16L1587.59 2384.16Q1588.29 2384.16 1588.59 2384.79L1597.06 2402.35Q1597.36 2402.97 1598.05 2402.97L1623.60 2402.97Q1624.26 2402.97 1624.55 2403.56L1632.56 2420.14Q1632.84 2420.72 1633.48 2420.72L1657.63 2420.72Q1658.25 2420.72 1658.52 2421.28L1666.15 2436.99Q1666.42 2437.54 1667.03 2437.54L1689.85 2437.54Q1690.44 2437.54 1690.71 2438.07L1698.13 2452.98Q1698.39 2453.50 1698.97 2453.50L1720.38 2453.50Q1720.94 2453.50 1721.19 2454.00L1728.52 2468.21Q1728.78 2468.70 1729.33 2468.70L1749.46 2468.70Q1749.99 2468.70 1750.24 2469.17L1757.49 2482.73Q1757.74 2483.20 1758.27 2483.20L1777.23 2483.20Q1777.74 2483.20 1777.99 2483.65L1785.15 2496.62Q1785.40 2497.06 1785.90 2497.06L1803.80 2497.06Q1804.29 2497.06 1804.53 2497.49L1811.63 2509.92Q1811.87 2510.34 1812.35 2510.34L1829.27 2510.34Q1829.74 2510.34 1829.98 2510.75L1837.01 2522.69Q1837.24 2523.08 1837.71 2523.08L1853.73 2523.08Q1854.18 2523.08 1854.42 2523.47L1861.38 2534.95Q1861.61 2535.33 1862.06 2535.33L1877.26 2535.33Q1877.69 2535.33 1877.92 2535.70L1884.83 2546.76Q1885.05 2547.12 1885.48 2547.12L1899.91 2547.12Q1900.33 2547.12 1900.55 2547.47L1907.41 2558.14Q1907.63 2558.48 1908.04 2558.48L1921.76 2558.48Q1922.16 2558.48 1922.39 2558.82L1929.19 2569.12Q1929.41 2569.45 1929.81 2569.45L1942.86 2569.45Q1943.25 2569.45 1943.47 2569.77L1950.22 2579.73Q1950.44 2580.05 1950.82 2580.05L1963.26 2580.05Q1963.63 2580.05 1963.85 2580.36L1970.56 2590.00Q1970.77 2590.30 1971.15 2590.30L1983.00 2590.30Q1983.36 2590.30 1983.57 2590.60L1990.25 2599.94Q1990.45 2600.23 1990.82 2600.23L2002.12 2600.23Q2002.48 2600.23 2002.68 2600.52L2009.32 2609.57Q2009.52 2609.86 2009.87 2609.86L2020.67 2609.86Q2021.01 2609.86 2021.22 2610.13L2027.81 2618.92Q2028.02 2619.19 2028.36 2619.19L2038.67 2619.19Q2039.01 2619.19 2039.21 2619.46L2045.77 2628.00Q2045.97 2628.26 2046.30 2628.26L2056.16 2628.26Q2056.48 2628.26 2056.69 2628.52L2063.21 2636.83Q2063.41 2637.08 2063.73 2637.08L2073.17 2637.08Q2073.48 2637.08 2073.68 2637.32L2080.18 2645.41Q2080.37 2645.65 2080.68 2645.65L2089.71 2645.65Q2090.02 2645.65 2090.21 2645.89L2096.68 2653.77Q2096.87 2654.00 2097.18 2654.00L2105.82 2654.00Q2106.12 2654.00 2106.31 2654.23L2112.75 2661.91Q2112.94 2662.13 2113.24 2662.13L2121.52 2662.13Q2121.81 2662.13 2122.00 2662.35L2128.42 2669.84Q2128.60 2670.06 2128.89 2670.06L2136.82 2670.06Q2137.11 2670.06 2137.29 2670.27L2143.69 2677.58Q2143.87 2677.79 2144.15 2677.79L2151.75 2677.79Q2152.03 2677.79 2152.22 2677.99L2158.58 2685.13Q2158.76 2685.33 2159.03 2685.33L2166.34 2685.33Q2166.61 2685.33 2166.79 2685.53L2173.05 2692.50Q2173.23 2692.70 2173.50 2692.70L2180.64 2692.70Q2180.90 2692.70 2181.08 2692.90L2187.20 2699.70Q2187.37 2699.90 2187.63 2699.90L2194.61 2699.90Q2194.87 2699.90 2195.04 2700.09L2201.02 2706.74Q2201.19 2706.93 2201.45 2706.93L2203.01 2706.93" fill="none" stroke="#000" stroke-width="6.50" stroke-linejoin="round"/>
<path d="M856.44 2066.46L859.94 2081.96L943.91 2081.96Q945.90 2081.96 946.33 2083.91L955.37 2125.64Q955.79 2127.56 957.75 2127.56L1032.08 2127.56Q1033.81 2127.56 1034.03 2129.27L1038.73 2166.04Q1038.94 2167.73 1040.65 2167.73L1106.13 2167.73Q1107.66 2167.73 1107.93 2169.24L1113.88 2202.08Q1114.15 2203.57 1115.66 2203.57L1172.97 2203.57Q1174.34 2203.57 1174.59 2204.92L1180.28 2234.55Q1180.54 2235.88 1181.90 2235.88L1233.76 2235.88Q1235.01 2235.88 1235.24 2237.10L1240.49 2264.06Q1240.72 2265.27 1241.95 2265.27L1288.92 2265.27Q1290.05 2265.27 1290.23 2266.39L1294.14 2291.09Q1294.32 2292.20 1295.45 2292.20L1338.63 2292.20Q1339.68 2292.20 1339.89 2293.23L1344.60 2316.04Q1344.81 2317.05 1345.85 2317.05L1387.56 2317.05Q1388.52 2317.05 1388.67 2318.01L1392.05 2339.17Q1392.20 2340.12 1393.16 2340.12L1431.04 2340.12Q1431.94 2340.12 1432.12 2341.00L1436.03 2360.75Q1436.20 2361.62 1437.10 2361.62L1472.19 2361.62Q1473.03 2361.62 1473.17 2362.45L1476.29 2380.95Q1476.43 2381.77 1477.26 2381.77L1509.17 2381.77Q1509.96 2381.77 1510.10 2382.55L1513.21 2399.94Q1513.35 2400.72 1514.14 2400.72L1546.04 2400.72Q1546.79 2400.72 1546.93 2401.45L1550.04 2417.87Q1550.18 2418.60 1550.92 2418.60L1580.20 2418.60Q1580.90 2418.60 1581.04 2419.29L1584.16 2434.83Q1584.29 2435.52 1584.99 2435.52L1612.80 2435.52Q1613.47 2435.52 1613.58 2436.18L1616.25 2450.93Q1616.37 2451.58 1617.04 2451.58L1642.68 2451.58Q1643.32 2451.58 1643.49 2452.20L1647.41 2466.26Q1647.58 2466.87 1648.21 2466.87L1673.34 2466.87Q1673.94 2466.87 1674.01 2467.47L1675.57 2480.85Q1675.64 2481.45 1676.24 2481.45L1699.92 2481.45Q1700.50 2481.45 1700.62 2482.02L1703.42 2494.83Q1703.55 2495.39 1704.12 2495.39L1726.48 2495.39Q1727.03 2495.39 1727.16 2495.93L1730.12 2508.20Q1730.25 2508.74 1730.80 2508.74L1751.94 2508.74Q1752.47 2508.74 1752.61 2509.26L1755.70 2521.03Q1755.84 2521.55 1756.36 2521.55L1776.39 2521.55Q1776.90 2521.55 1777.04 2522.04L1780.26 2533.36Q1780.40 2533.85 1780.91 2533.85L1799.90 2533.85Q1800.40 2533.85 1800.54 2534.32L1803.88 2545.23Q1804.02 2545.70 1804.51 2545.70L1822.55 2545.70Q1823.03 2545.70 1823.17 2546.15L1826.62 2556.66Q1826.77 2557.11 1827.24 2557.11L1844.39 2557.11Q1844.85 2557.11 1845.00 2557.54L1848.55 2567.69Q1848.70 2568.12 1849.16 2568.12L1865.48 2568.12Q1865.93 2568.12 1866.08 2568.54L1869.72 2578.35Q1869.88 2578.77 1870.32 2578.77L1885.87 2578.77Q1886.30 2578.77 1886.46 2579.16L1890.19 2588.66Q1890.35 2589.06 1890.77 2589.06L1905.61 2589.06Q1906.02 2589.06 1906.18 2589.44L1910.00 2598.65Q1910.16 2599.03 1910.57 2599.03L1924.73 2599.03Q1925.13 2599.03 1925.29 2599.40L1929.19 2608.32Q1929.34 2608.69 1929.74 2608.69L1943.27 2608.69Q1943.66 2608.69 1943.82 2609.04L1947.79 2617.71Q1947.95 2618.06 1948.34 2618.06L1961.27 2618.06Q1961.65 2618.06 1961.81 2618.40L1965.85 2626.83Q1966.01 2627.16 1966.38 2627.16L1978.75 2627.16Q1979.12 2627.16 1979.29 2627.49L1983.39 2635.68Q1983.55 2636.01 1983.92 2636.01L1995.75 2636.01Q1996.11 2636.01 1996.28 2636.33L2000.44 2644.30Q2000.60 2644.61 2000.96 2644.61L2012.29 2644.61Q2012.64 2644.61 2012.81 2644.92L2017.03 2652.68Q2017.20 2652.99 2017.54 2652.99L2028.40 2652.99Q2028.74 2652.99 2028.91 2653.28L2033.19 2660.85Q2033.35 2661.14 2033.69 2661.14L2044.09 2661.14Q2044.42 2661.14 2044.59 2661.43L2048.92 2668.81Q2049.09 2669.09 2049.42 2669.09L2059.39 2669.09Q2059.72 2669.09 2059.88 2669.37L2064.27 2676.57Q2064.44 2676.85 2064.76 2676.85L2074.32 2676.85Q2074.64 2676.85 2074.81 2677.11L2079.24 2684.15Q2079.41 2684.41 2079.72 2684.41L2088.90 2684.41Q2089.20 2684.41 2089.37 2684.67L2093.85 2691.55Q2094.02 2691.80 2094.32 2691.80L2103.13 2691.80Q2103.43 2691.80 2103.60 2692.05L2108.12 2698.78Q2108.29 2699.02 2108.59 2699.02L2117.04 2699.02Q2117.34 2699.02 2117.50 2699.26L2122.07 2705.84Q2122.24 2706.08 2122.53 2706.08L2130.65 2706.08Q2130.93 2706.08 2131.10 2706.31L2135.71 2712.75Q2135.87 2712.98 2136.16 2712.98L2143.95 2712.98Q2144.23 2712.98 2144.40 2713.21L2149.05 2719.51Q2149.21 2719.73 2149.49 2719.73L2156.98 2719.73Q2157.25 2719.73 2157.42 2719.95L2162.08 2726.13Q2162.24 2726.34 2162.51 2726.34L2169.76 2726.34Q2170.03 2726.34 2170.19 2726.56L2174.79 2732.61Q2174.95 2732.82 2175.22 2732.82L2182.32 2732.82Q2182.58 2732.82 2182.74 2733.03L2187.25 2738.95Q2187.41 2739.16 2187.67 2739.16L2194.63 2739.16Q2194.88 2739.16 2195.04 2739.37L2199.46 2745.18Q2199.62 2745.38 2199.87 2745.38L2206.69 2745.38Q2206.94 2745.38 2207.10 2745.58L2211.43 2751.28Q2211.58 2751.48 2211.84 2751.48L2218.52 2751.48Q2218.77 2751.48 2218.92 2751.67L2223.17 2757.26Q2223.32 2757.46 2223.57 2757.46L2229.17 2757.46" fill="none" stroke="#000" stroke-width="6.50" stroke-linejoin="round"/>
</g>
<path d="M384.24 1284.20L384.24 1271.40M384.24 59.90L384.24 72.70M481.47 1284.20L481.47 1271.40M481.47 59.90L481.47 72.70M565.70 1284.20L565.70 1271.40M565.70 59.90L565.70 72.70M639.99 1284.20L639.99 1271.40M639.99 59.90L639.99 72.70M706.45 1284.20L706.45 1262.20M706.45 59.90L706.45 81.90M1143.68 1284.20L1143.68 1271.40M1143.68 59.90L1143.68 72.70M1399.44 1284.20L1399.44 1271.40M1399.44 59.90L1399.44 72.70M1580.90 1284.20L1580.90 1271.40M1580.90 59.90L1580.90 72.70M1721.66 1284.20L1721.66 1271.40M1721.66 59.90L1721.66 72.70M1836.66 1284.20L1836.66 1271.40M1836.66 59.90L1836.66 72.70M1933.90 1284.20L1933.90 1271.40M1933.90 59.90L1933.90 72.70M2018.13 1284.20L2018.13 1271.40M2018.13 59.90L2018.13 72.70M2092.42 1284.20L2092.42 1271.40M2092.42 59.90L2092.42 72.70M2158.88 1284.20L2158.88 1262.20M2158.88 59.90L2158.88 81.90M329.35 1284.20L351.35 1284.20M2219.00 1284.20L2197.00 1284.20M329.35 1192.06L342.15 1192.06M2219.00 1192.06L2206.20 1192.06M329.35 1138.17L342.15 1138.17M2219.00 1138.17L2206.20 1138.17M329.35 1099.92L342.15 1099.92M2219.00 1099.92L2206.20 1099.92M329.35 1070.26L342.15 1070.26M2219.00 1070.26L2206.20 1070.26M329.35 1046.03L342.15 1046.03M2219.00 1046.03L2206.20 1046.03M329.35 1025.54L342.15 1025.54M2219.00 1025.54L2206.20 1025.54M329.35 1007.79L342.15 1007.79M2219.00 1007.79L2206.20 1007.79M329.35 992.13L342.15 992.13M2219.00 992.13L2206.20 992.13M329.35 978.12L351.35 978.12M2219.00 978.12L2197.00 978.12M329.35 885.99L342.15 885.99M2219.00 885.99L2206.20 885.99M329.35 832.09L342.15 832.09M2219.00 832.09L2206.20 832.09M329.35 793.85L342.15 793.85M2219.00 793.85L2206.20 793.85M329.35 764.19L342.15 764.19M2219.00 764.19L2206.20 764.19M329.35 739.95L342.15 739.95M2219.00 739.95L2206.20 739.95M329.35 719.46L342.15 719.46M2219.00 719.46L2206.20 719.46M329.35 701.71L342.15 701.71M2219.00 701.71L2206.20 701.71M329.35 686.06L342.15 686.06M2219.00 686.06L2206.20 686.06M329.35 672.05L351.35 672.05M2219.00 672.05L2197.00 672.05M329.35 579.91L342.15 579.91M2219.00 579.91L2206.20 579.91M329.35 526.02L342.15 526.02M2219.00 526.02L2206.20 526.02M329.35 487.77L342.15 487.77M2219.00 487.77L2206.20 487.77M329.35 458.11L342.15 458.11M2219.00 458.11L2206.20 458.11M329.35 433.88L342.15 433.88M2219.00 433.88L2206.20 433.88M329.35 413.39L342.15 413.39M2219.00 413.39L2206.20 413.39M329.35 395.64L342.15 395.64M2219.00 395.64L2206.20 395.64M329.35 379.98L342.15 379.98M2219.00 379.98L2206.20 379.98M329.35 365.97L351.35 365.97M2219.00 365.97L2197.00 365.97M329.35 273.84L342.15 273.84M2219.00 273.84L2206.20 273.84M329.35 219.94L342.15 219.94M2219.00 219.94L2206.20 219.94M329.35 181.70L342.15 181.70M2219.00 181.70L2206.20 181.70M329.35 152.04L342.15 152.04M2219.00 152.04L2206.20 152.04M329.35 127.80L342.15 127.80M2219.00 127.80L2206.20 127.80M329.35 107.31L342.15 107.31M2219.00 107.31L2206.20 107.31M329.35 89.56L342.15 89.56M2219.00 89.56L2206.20 89.56M329.35 73.91L342.15 73.91M2219.00 73.91L2206.20 73.91M329.35 59.90L351.35 59.90M2219.00 59.90L2197.00 59.90" stroke="#000" stroke-width="6.30" fill="none"/>
<rect x="329.35" y="59.90" width="1889.65" height="1224.30" fill="none" stroke="#000" stroke-width="6.50"/>
<path d="M440.81 2771.40L440.81 2758.60M440.81 1496.60L440.81 1509.40M535.05 2771.40L535.05 2758.60M535.05 1496.60L535.05 1509.40M616.68 2771.40L616.68 2758.60M616.68 1496.60L616.68 1509.40M688.68 2771.40L688.68 2758.60M688.68 1496.60L688.68 1509.40M753.09 2771.40L753.09 2749.40M753.09 1496.60L753.09 1518.60M1176.83 2771.40L1176.83 2758.60M1176.83 1496.60L1176.83 1509.40M1424.71 2771.40L1424.71 2758.60M1424.71 1496.60L1424.71 1509.40M1600.58 2771.40L1600.58 2758.60M1600.58 1496.60L1600.58 1509.40M1736.99 2771.40L1736.99 2758.60M1736.99 1496.60L1736.99 1509.40M1848.45 2771.40L1848.45 2758.60M1848.45 1496.60L1848.45 1509.40M1942.69 2771.40L1942.69 2758.60M1942.69 1496.60L1942.69 1509.40M2024.32 2771.40L2024.32 2758.60M2024.32 1496.60L2024.32 1509.40M2096.32 2771.40L2096.32 2758.60M2096.32 1496.60L2096.32 1509.40M2160.73 2771.40L2160.73 2749.40M2160.73 1496.60L2160.73 1518.60M329.35 2771.40L342.15 2771.40M2219.00 2771.40L2206.20 2771.40M329.35 2729.05L342.15 2729.05M2219.00 2729.05L2206.20 2729.05M329.35 2699.01L342.15 2699.01M2219.00 2699.01L2206.20 2699.01M329.35 2675.70L342.15 2675.70M2219.00 2675.70L2206.20 2675.70M329.35 2656.66L342.15 2656.66M2219.00 2656.66L2206.20 2656.66M329.35 2640.56L342.15 2640.56M2219.00 2640.56L2206.20 2640.56M329.35 2626.62L342.15 2626.62M2219.00 2626.62L2206.20 2626.62M329.35 2614.31L342.15 2614.31M2219.00 2614.31L2206.20 2614.31M329.35 2603.31L351.35 2603.31M2219.00 2603.31L2197.00 2603.31M329.35 2530.92L342.15 2530.92M2219.00 2530.92L2206.20 2530.92M329.35 2488.57L342.15 2488.57M2219.00 2488.57L2206.20 2488.57M329.35 2458.53L342.15 2458.53M2219.00 2458.53L2206.20 2458.53M329.35 2435.22L342.15 2435.22M2219.00 2435.22L2206.20 2435.22M329.35 2416.18L342.15 2416.18M2219.00 2416.18L2206.20 2416.18M329.35 2400.08L342.15 2400.08M2219.00 2400.08L2206.20 2400.08M329.35 2386.13L342.15 2386.13M2219.00 2386.13L2206.20 2386.13M329.35 2373.83L342.15 2373.83M2219.00 2373.83L2206.20 2373.83M329.35 2362.83L342.15 2362.83M2219.00 2362.83L2206.20 2362.83M329.35 2290.44L342.15 2290.44M2219.00 2290.44L2206.20 2290.44M329.35 2248.09L342.15 2248.09M2219.00 2248.09L2206.20 2248.09M329.35 2218.04L342.15 2218.04M2219.00 2218.04L2206.20 2218.04M329.35 2194.74L342.15 2194.74M2219.00 2194.74L2206.20 2194.74M329.35 2175.70L342.15 2175.70M2219.00 2175.70L2206.20 2175.70M329.35 2159.60L342.15 2159.60M2219.00 2159.60L2206.20 2159.60M329.35 2145.65L342.15 2145.65M2219.00 2145.65L2206.20 2145.65M329.35 2133.35L342.15 2133.35M2219.00 2133.35L2206.20 2133.35M329.35 2122.35L351.35 2122.35M2219.00 2122.35L2197.00 2122.35M329.35 2049.96L342.15 2049.96M2219.00 2049.96L2206.20 2049.96M329.35 2007.61L342.15 2007.61M2219.00 2007.61L2206.20 2007.61M329.35 1977.56L342.15 1977.56M2219.00 1977.56L2206.20 1977.56M329.35 1954.26L342.15 1954.26M2219.00 1954.26L2206.20 1954.26M329.35 1935.22L342.15 1935.22M2219.00 1935.22L2206.20 1935.22M329.35 1919.12L342.15 1919.12M2219.00 1919.12L2206.20 1919.12M329.35 1905.17L342.15 1905.17M2219.00 1905.17L2206.20 1905.17M329.35 1892.87L342.15 1892.87M2219.00 1892.87L2206.20 1892.87M329.35 1881.87L342.15 1881.87M2219.00 1881.87L2206.20 1881.87M329.35 1809.47L342.15 1809.47M2219.00 1809.47L2206.20 1809.47M329.35 1767.13L342.15 1767.13M2219.00 1767.13L2206.20 1767.13M329.35 1737.08L342.15 1737.08M2219.00 1737.08L2206.20 1737.08M329.35 1713.78L342.15 1713.78M2219.00 1713.78L2206.20 1713.78M329.35 1694.73L342.15 1694.73M2219.00 1694.73L2206.20 1694.73M329.35 1678.64L342.15 1678.64M2219.00 1678.64L2206.20 1678.64M329.35 1664.69L342.15 1664.69M2219.00 1664.69L2206.20 1664.69M329.35 1652.39L342.15 1652.39M2219.00 1652.39L2206.20 1652.39M329.35 1641.38L351.35 1641.38M2219.00 1641.38L2197.00 1641.38M329.35 1568.99L342.15 1568.99M2219.00 1568.99L2206.20 1568.99M329.35 1526.65L342.15 1526.65M2219.00 1526.65L2206.20 1526.65M329.35 1496.60L342.15 1496.60M2219.00 1496.60L2206.20 1496.60" stroke="#000" stroke-width="6.30" fill="none"/>
<rect x="329.35" y="1496.60" width="1889.65" height="1274.80" fill="none" stroke="#000" stroke-width="6.50"/>
<text><tspan x="62.96" y="78.40" font-size="74.20">(</tspan><tspan x="89.03" y="80.40" font-size="77.50" font-style="italic">a</tspan><tspan x="130.73" y="78.40" font-size="74.20">)</tspan></text>
<text><tspan x="62.96" y="1558.40" font-size="74.20">(</tspan><tspan x="89.26" y="1560.40" font-size="77.50" font-style="italic">b</tspan><tspan x="130.73" y="1558.40" font-size="74.20">)</tspan></text>
<text transform="scale(1,0.9480)"><tspan x="2246.71" y="1028.80" font-size="65.70">(i)</tspan></text>
<text transform="scale(1,0.9480)"><tspan x="2246.71" y="1165.30" font-size="65.70">(ii)</tspan></text>
<text transform="scale(1,0.9480)"><tspan x="2246.71" y="1235.55" font-size="65.70">(iii)</tspan></text>
<text transform="scale(1,0.9480)"><tspan x="2246.71" y="1302.53" font-size="65.70">(iv)</tspan></text>
<text transform="scale(1,0.9480)"><tspan x="2246.71" y="1367.62" font-size="65.70">(v)</tspan></text>
<text transform="scale(1,0.9480)"><tspan x="2246.71" y="2560.55" font-size="65.70">(i)</tspan></text>
<text transform="scale(1,0.9480)"><tspan x="2246.71" y="2732.91" font-size="65.70">(ii)</tspan></text>
<text transform="scale(1,0.9480)"><tspan x="2246.71" y="2804.01" font-size="65.70">(iii)</tspan></text>
<text transform="scale(1,0.9480)"><tspan x="2246.71" y="2870.57" font-size="65.70">(iv)</tspan></text>
<text transform="scale(1,0.9480)"><tspan x="2246.71" y="2935.76" font-size="65.70">(v)</tspan></text>
<text><tspan x="212.21" y="80.40" font-size="68.00">10</tspan><tspan x="277.52" y="55.30" font-size="45.00">1</tspan></text>
<text><tspan x="212.21" y="386.30" font-size="68.00">10</tspan><tspan x="278.15" y="361.20" font-size="45.00">0</tspan></text>
<text><tspan x="178.01" y="692.20" font-size="68.00">10</tspan><tspan x="244.37" y="672.70" font-size="50.00" textLength="32.66" lengthAdjust="spacingAndGlyphs">−</tspan><tspan x="277.25" y="667.40" font-size="45.00">1</tspan></text>
<text><tspan x="178.01" y="998.10" font-size="68.00">10</tspan><tspan x="244.37" y="978.60" font-size="50.00" textLength="32.66" lengthAdjust="spacingAndGlyphs">−</tspan><tspan x="278.13" y="973.30" font-size="45.00">2</tspan></text>
<text><tspan x="178.01" y="1304.00" font-size="68.00">10</tspan><tspan x="244.37" y="1284.50" font-size="50.00" textLength="32.66" lengthAdjust="spacingAndGlyphs">−</tspan><tspan x="277.68" y="1279.20" font-size="45.00">3</tspan></text>
<text><tspan x="212.21" y="1661.80" font-size="68.00">10</tspan><tspan x="278.15" y="1636.70" font-size="45.00">0</tspan></text>
<text><tspan x="178.01" y="2141.60" font-size="68.00">10</tspan><tspan x="244.37" y="2122.10" font-size="50.00" textLength="32.66" lengthAdjust="spacingAndGlyphs">−</tspan><tspan x="278.13" y="2116.80" font-size="45.00">2</tspan></text>
<text><tspan x="178.01" y="2621.40" font-size="68.00">10</tspan><tspan x="244.37" y="2601.90" font-size="50.00" textLength="32.66" lengthAdjust="spacingAndGlyphs">−</tspan><tspan x="277.79" y="2596.60" font-size="45.00">4</tspan></text>
<text><tspan x="662.21" y="1368.40" font-size="68.00">10</tspan><tspan x="727.52" y="1343.30" font-size="45.00">1</tspan></text>
<text><tspan x="2115.61" y="1368.40" font-size="68.00">10</tspan><tspan x="2181.80" y="1343.30" font-size="45.00">2</tspan></text>
<text><tspan x="707.86" y="2856.10" font-size="68.00">10</tspan><tspan x="773.17" y="2831.00" font-size="45.00">1</tspan></text>
<text><tspan x="2115.61" y="2856.10" font-size="68.00">10</tspan><tspan x="2181.80" y="2831.00" font-size="45.00">2</tspan></text>
<path d="M1836.7 628.5L2092.4 628.5L2092.4 736.3Z" fill="none" stroke="#000" stroke-width="2.6" stroke-linejoin="miter"/>
<path d="M1848.5 2034.7L2096.3 2034.7L2096.3 2161.7Z" fill="none" stroke="#000" stroke-width="2.6" stroke-linejoin="miter"/>
<text><tspan x="1947.00" y="603.90" font-size="68.00">1</tspan></text>
<text><tspan x="2113.13" y="700.40" font-size="68.00">2</tspan></text>
<text><tspan x="1955.00" y="2011.40" font-size="68.00">1</tspan></text>
<text><tspan x="2118.55" y="2117.20" font-size="68.00">3</tspan></text>
<text transform="translate(128.90,0) rotate(-90)"><tspan x="-890.64" y="0.00" font-size="79.00" font-style="italic">h</tspan><tspan x="-844.64" y="-2.00" font-size="74.20">(</tspan><tspan x="-817.69" y="0.00" font-size="80.60" textLength="34.66" lengthAdjust="spacingAndGlyphs">1</tspan><tspan x="-778.74" y="0.00" font-size="79.00">,</tspan><tspan x="-740.60" y="0.00" font-size="79.00" font-style="italic">t</tspan><tspan x="-716.42" y="-2.00" font-size="74.20">)</tspan><tspan x="-685.45" y="15.50" font-size="104.00">/</tspan><tspan x="-650.93" y="0.00" font-size="79.00" font-style="italic">D</tspan><tspan x="-573.03" y="10.80" font-size="92.00" textLength="59.26" lengthAdjust="spacingAndGlyphs">−</tspan><tspan x="-490.59" y="0.00" font-size="80.60" textLength="34.66" lengthAdjust="spacingAndGlyphs">1</tspan></text>
<text transform="translate(128.90,0) rotate(-90)"><tspan x="-2318.39" y="0.00" font-size="79.00" font-style="italic">u</tspan><tspan x="-2271.34" y="-2.00" font-size="74.20">(</tspan><tspan x="-2244.39" y="0.00" font-size="80.60" textLength="34.66" lengthAdjust="spacingAndGlyphs">1</tspan><tspan x="-2205.44" y="0.00" font-size="79.00">,</tspan><tspan x="-2167.30" y="0.00" font-size="79.00" font-style="italic">t</tspan><tspan x="-2143.12" y="-2.00" font-size="74.20">)</tspan><tspan x="-2112.15" y="15.50" font-size="104.00">/</tspan><tspan x="-2075.67" y="15.30" font-size="100.00" textLength="65.49" lengthAdjust="spacingAndGlyphs">√</tspan><tspan x="-2010.48" y="0.00" font-size="79.00" font-style="italic">D</tspan></text>
<rect x="65.2" y="1950.2" width="4.9" height="62.5" fill="#000"/>
<text><tspan x="1187.75" y="2952.90" font-size="79.00" font-style="italic">t</tspan><tspan x="1230.87" y="2963.30" font-size="92.00" textLength="59.26" lengthAdjust="spacingAndGlyphs">−</tspan><tspan x="1311.20" y="2952.90" font-size="79.00" font-style="italic">t</tspan><tspan x="1333.47" y="2964.40" font-size="54.50">0</tspan></text>
</svg>
</body></html>
